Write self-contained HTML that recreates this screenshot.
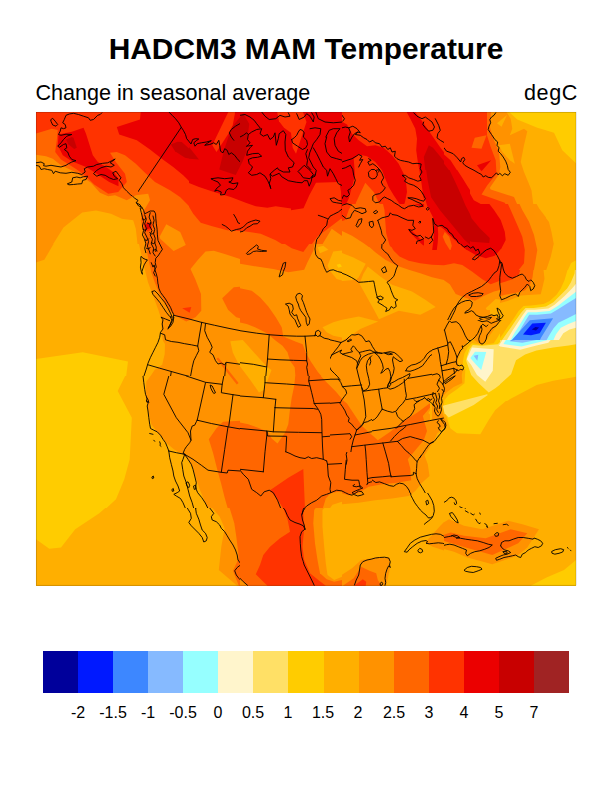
<!DOCTYPE html>
<html lang="en">
<head>
<meta charset="utf-8">
<title>HADCM3 MAM Temperature</title>
<style>
html,body{margin:0;padding:0;background:#fff;}
body{width:612px;height:792px;position:relative;overflow:hidden;font-family:"Liberation Sans",sans-serif;color:#000;}
.map{position:absolute;left:0;top:0;}
.title{position:absolute;left:0;width:612px;top:32px;text-align:center;font-weight:bold;font-size:29.9px;line-height:34px;white-space:nowrap;}
.sub{position:absolute;top:81px;font-size:21.6px;line-height:24px;white-space:nowrap;}
.sub.l{left:35.4px;}
.sub.r{left:524px;letter-spacing:0.6px;}
.cb{position:absolute;left:43px;top:651px;width:526px;height:42px;display:flex;}
.cb i{display:block;flex:1 1 0;height:100%;}
.lab{position:absolute;top:704px;font-size:16px;line-height:18px;width:60px;margin-left:-30px;text-align:center;white-space:nowrap;}
</style>
</head>
<body>
<svg class="map" width="612" height="792" viewBox="0 0 612 792" shape-rendering="geometricPrecision">
<defs>
<clipPath id="c0"><path clip-rule="evenodd" d="M36 112H138V244H36ZM128 196H138V244H128Z"/></clipPath>
<clipPath id="c1"><path clip-rule="evenodd" d="M138 112H240V244H138ZM138 196H196V244H138Z"/></clipPath>
<clipPath id="c2"><rect x="240" y="112" width="102" height="132"/></clipPath>
<clipPath id="c3"><rect x="342" y="112" width="102" height="132"/></clipPath>
<clipPath id="c4"><rect x="444" y="112" width="102" height="132"/></clipPath>
<clipPath id="c5"><path clip-rule="evenodd" d="M138 244H240V376H138ZM138 244H196V284H138Z"/></clipPath>
<clipPath id="c6"><path clip-rule="evenodd" d="M240 244H342V376H240ZM330 320H342V376H330Z"/></clipPath>
<clipPath id="c7"><rect x="342" y="244" width="102" height="76"/></clipPath>
<clipPath id="c8"><rect x="444" y="244" width="102" height="76"/></clipPath>
<clipPath id="c9"><rect x="138" y="376" width="102" height="132"/></clipPath>
<clipPath id="c10"><path clip-rule="evenodd" d="M240 376H342V508H240ZM330 376H342V452H330Z"/></clipPath>
<clipPath id="c11"><path clip-rule="evenodd" d="M342 452H444V508H342ZM372 452H444V493H372Z"/></clipPath>
<clipPath id="c12"><path clip-rule="evenodd" d="M432 376H444V452H432ZM432 392H444V452H432Z"/></clipPath>
<clipPath id="c13"><rect x="444" y="452" width="132" height="56"/></clipPath>
<clipPath id="c14"><rect x="138" y="508" width="102" height="78"/></clipPath>
<clipPath id="c15"><rect x="240" y="508" width="102" height="78"/></clipPath>
<clipPath id="c16"><rect x="342" y="508" width="102" height="78"/></clipPath>
<clipPath id="c17"><rect x="444" y="508" width="132" height="78"/></clipPath>
<clipPath id="c18"><rect x="128" y="196" width="68" height="88"/></clipPath>
<clipPath id="c19"><path clip-rule="evenodd" d="M330 320H432V452H330ZM372 392H432V452H372Z"/></clipPath>
<clipPath id="c20"><path clip-rule="evenodd" d="M432 320H534V452H432ZM432 392H450V452H432Z"/></clipPath>
<clipPath id="c21"><rect x="372" y="392" width="78" height="101"/></clipPath>
<clipPath id="c22"><rect x="36" y="112" width="153" height="198"/></clipPath>
<clipPath id="c23"><rect x="189" y="112" width="102" height="132"/></clipPath>
<clipPath id="c24"><rect x="291" y="112" width="102" height="132"/></clipPath>
<clipPath id="c25"><rect x="393" y="112" width="87" height="132"/></clipPath>
<clipPath id="c26"><rect x="480" y="112" width="96" height="132"/></clipPath>
<clipPath id="c27"><rect x="342" y="112" width="102" height="132"/></clipPath>
<clipPath id="c28"><rect x="444" y="112" width="102" height="132"/></clipPath>
<clipPath id="c29"><rect x="36" y="244" width="102" height="132"/></clipPath>
<clipPath id="c30"><rect x="138" y="244" width="102" height="132"/></clipPath>
<clipPath id="c31"><rect x="240" y="244" width="102" height="132"/></clipPath>
<clipPath id="c32"><rect x="342" y="244" width="102" height="132"/></clipPath>
<clipPath id="c33"><rect x="444" y="244" width="102" height="132"/></clipPath>
<clipPath id="c34"><rect x="36" y="376" width="102" height="132"/></clipPath>
<clipPath id="c35"><rect x="138" y="376" width="102" height="132"/></clipPath>
<clipPath id="c36"><rect x="240" y="376" width="102" height="132"/></clipPath>
<clipPath id="c37"><rect x="342" y="376" width="102" height="132"/></clipPath>
<clipPath id="c38"><rect x="444" y="376" width="132" height="132"/></clipPath>
<clipPath id="c39"><rect x="36" y="508" width="102" height="78"/></clipPath>
<clipPath id="c40"><rect x="138" y="508" width="102" height="78"/></clipPath>
<clipPath id="c41"><rect x="240" y="508" width="102" height="78"/></clipPath>
<clipPath id="c42"><rect x="342" y="508" width="102" height="78"/></clipPath>
<clipPath id="c43"><rect x="444" y="508" width="132" height="78"/></clipPath>
<clipPath id="c44"><rect x="342" y="204" width="102" height="43"/></clipPath>
<clipPath id="c45"><rect x="444" y="204" width="102" height="86"/></clipPath>
<clipPath id="c46"><rect x="140" y="214" width="50" height="42"/></clipPath>
<clipPath id="c47"><rect x="210" y="335" width="70" height="65"/></clipPath>
<clipPath id="c48"><rect x="424" y="170" width="46" height="80"/></clipPath>
<clipPath id="c49"><rect x="430" y="310" width="60" height="111"/></clipPath>
<clipPath id="c50"><rect x="546" y="244" width="30" height="46"/></clipPath>
<clipPath id="c51"><rect x="432" y="320" width="102" height="132"/></clipPath>
<clipPath id="c52"><rect x="500" y="290" width="76" height="111"/></clipPath>
<clipPath id="c53"><rect x="500" y="270" width="76" height="70"/></clipPath>
</defs>
<g>
<g clip-path="url(#c0)">
</g>
<g clip-path="url(#c1)">
</g>
<g clip-path="url(#c2)">
</g>
<g clip-path="url(#c3)">
</g>
<g clip-path="url(#c4)">
</g>
<g clip-path="url(#c5)">
</g>
<g clip-path="url(#c6)">
</g>
<g clip-path="url(#c7)">
</g>
<g clip-path="url(#c8)">
</g>
<g clip-path="url(#c9)">
</g>
<g clip-path="url(#c10)">
</g>
<g clip-path="url(#c11)">
</g>
<g clip-path="url(#c12)">
</g>
<g clip-path="url(#c13)">
</g>
<g clip-path="url(#c14)">
</g>
<g clip-path="url(#c15)">
</g>
<g clip-path="url(#c16)">
</g>
<g clip-path="url(#c17)">
</g>
<g clip-path="url(#c18)">
</g>
<g clip-path="url(#c19)">
</g>
<g clip-path="url(#c20)">
</g>
<g clip-path="url(#c21)">
</g>
<g clip-path="url(#c22)">
<rect x="35" y="111" width="155" height="200" fill="#FF9200"/>
<polygon fill="#FFAF00" points="36,262.5 44.8,260 51,247.5 63.5,227.5 82.2,212.5 96,210.5 111,213.8 121.8,218.8 133.2,220.2 135.8,228.8 137.5,244 139.8,250 143.5,270 149.8,285 156,300 161,317.5 36,317.5"/>
<polygon fill="#FF6600" points="34.8,154.5 46,156.2 52.8,158.8 61,165.2 76.8,172.8 91,182.8 100,192.8 108.2,196.2 115,195.2 126.8,200.2 135.8,195.2 148.2,193.8 150,200.2 145,208.8 141.8,213.8 140.8,220.2 142.5,228.8 145,238.8 149.8,257 154.8,264.5 156,282 161,297 166,312 191,312 191,110.8 34.8,110.8"/>
<polygon fill="#FF3300" points="34.8,133.8 51.8,128.8 57.8,130 56.8,140.2 55.2,152 61,159.5 76.8,169.5 86,176.2 94.2,184.5 108.2,193.8 118.2,192 126.8,182 125,173.8 115.8,162 110,152.8 116.8,152 125,155.2 135.8,163.8 144.2,172 155,182 170,190.2 180,197 188.2,205.2 195.8,215.2 196,110.8 34.8,110.8"/>
<polygon fill="#EB0000" points="58.5,134.5 57.8,145.2 62.8,155.2 71.8,161.2 86,167 94.2,172 102.8,177.8 109.2,182 118.5,186.2 118.5,178.8 114.2,172.8 106,167 97.8,162 92.8,155.2 89.2,143.8 86,133.8 83.5,127.8 71.8,131.8"/>
<polygon fill="#C80000" points="66,139.5 71.8,137 73.5,137.8 76.8,147.8 74.2,149 68.5,144.5"/>
<polygon fill="#EB0000" points="140.8,110.8 140,119.5 116.8,127 119.2,134.5 136.8,140.2 150,149.5 161.8,158.8 173.2,167 183.2,175.2 190.8,182.8 196,187 196,110.8"/>
<polygon fill="#C80000" points="170.8,144.5 177.5,141.8 181.8,142 199.2,157.8 198.2,160.2 185,157.8 175,151.2"/>
</g>
<g clip-path="url(#c23)">
<rect x="188" y="111" width="104" height="134" fill="#EB0000"/>
<polygon fill="#FF3300" points="228.7,111.2 235.3,111.2 232.7,125.3 229,132.8 216.5,152 212.3,145.3"/>
<polygon fill="#C80000" points="243.2,113.3 249.3,124 247.3,138.7 246.5,151.2 242.7,161.2 235.7,175 219.3,169.5 222.3,157 224.8,147.8 229.8,132.8 232.7,126.2"/>
<polygon fill="#FF3300" points="277,111.2 279,121.2 284,127.8 292.3,133.7 292.3,111.2"/>
<polygon fill="#C80000" points="188.2,146.2 189,147 199,159.5 189,158.7 188.2,158.7"/>
<polygon fill="#FF3300" points="188.2,182.8 199,187 214,192 230.7,197 245.7,202.8 255.7,206.2 267.3,207.8 275.7,206.2 292.3,208.7 292.3,245.3 188.2,245.3"/>
<polygon fill="#FF6600" points="188.2,205.3 193.2,213.7 200.7,222.8 212.3,226.2 227.3,230.3 244,231.2 260.7,233.7 275.7,240.3 284,245.3 188.2,245.3"/>
</g>
<g clip-path="url(#c24)">
<rect x="290" y="111" width="104" height="134" fill="#EB0000"/>
<polygon fill="#FF3300" points="290.2,111.2 302.7,111.2 306.5,122 296,153.7 292.7,147.8 291,132.8 290.2,132.8"/>
<polygon fill="#FF3300" points="346,111.2 349.3,122 361,136.2 369.3,144.5 379.3,146.2 386,151.2 393,162 394.3,162 394.3,111.2"/>
<polygon fill="#FF3300" points="290.2,210.3 303.5,208.3 309.3,195.3 316,182.8 339.3,182 341,192 341.8,217 346,220.3 349.3,212 355.2,192 356,178.7 355.2,167 364.3,160.3 372.7,157.8 379.3,165.3 384.3,175.3 387.7,192 389.3,208.7 393,213.7 394.3,213.7 394.3,245.3 290.2,245.3"/>
<polygon fill="#FF6600" points="311,245.3 317.7,236.2 330.2,227 341,218.7 348.5,218.7 356,202 357.7,195.3 366,182.8 377.7,193.7 384.3,208.7 386.8,225.3 384.3,245.3"/>
<polygon fill="#FF9200" points="321.8,245.3 331.8,228.7 346,238.7 357.7,240.3 371,245.3"/>
</g>
<g clip-path="url(#c25)">
<rect x="392" y="111" width="89" height="134" fill="#FF3300"/>
<polygon fill="#EB0000" points="405.5,111.2 411.3,122 417.2,133.7 416,145.3 416.3,158.7 418.3,180 423.3,192.5 425,203.3 434.2,219.2 432.5,231.7 425,236.7 416.7,236.7 409.2,225 403.3,201.7 405.8,190.3 406.3,183.7 399.7,167 393,161.2 392.2,160.3 392.2,212 396.3,210.3 400.8,212 407.5,224.2 412.5,235 420,245 427.5,248 434.7,246.7 436.7,231.7 435.8,221.7 441.7,223.3 448.3,230 455,238.3 463.3,244.2 472,246.7 496.3,247 496.3,209.5 495,209.5 486.3,206.2 473.8,200.3 466.3,187 459.7,174.5 450.5,160.3 440.5,147.8 431.3,134.5 422.2,121.2 414.7,111.2"/>
<polygon fill="#C80000" points="428.8,145.3 433,147.8 446.3,163.7 451.3,173.7 458,187 464.7,203.7 472.2,220.3 479.7,228.7 489.7,236.2 491.3,240.3 488.8,245.3 471.3,245.3 468,242 459.7,233.7 449.7,223.7 443,215.3 436.3,205.3 430.5,195.3 426.3,178.7 423.8,157"/>
<polygon fill="#EB0000" points="477.2,165.3 491,160.3 481.3,171.2"/>
<polygon fill="#FF6600" points="471.3,147.8 474.7,137.8 486.3,135.3 481.3,148.7"/>
<polygon fill="#FF6600" points="483.8,111.2 486.3,120.3 487.2,128.7 491.3,138.7 496.3,144.5 496.3,111.2"/>
<polygon fill="#FF6600" points="496.3,177.8 488.8,185.3 482.2,193.7 486.3,200.3 496.3,204.5"/>
<polygon fill="#FF6600" points="442.5,235 445,231.7 451.7,241.7 452.5,250 443.3,240"/>
</g>
<g clip-path="url(#c26)">
<rect x="479" y="111" width="98" height="134" fill="#FFAF00"/>
<polygon fill="#FFCC00" points="508.2,111.2 517.3,120.3 537.3,127.8 554,132.8 562.3,150.3 577.3,164.5 577.3,111.2"/>
<polygon fill="#FF9200" points="473.2,111.2 505.7,111.2 511.5,119.5 512.3,128.7 509.8,135.3 524,128.7 527.3,131.2 524,145.3 520.7,162 524,172 528.2,182 531.5,190.3 533.2,203.7 539.8,210.3 549,222 551.5,232 554,245.3 473.2,245.3"/>
<polygon fill="#FFAF00" points="497,123.3 507,115 501.5,126.7"/>
<polygon fill="#FFAF00" points="499,145.3 509.8,143.7 514.8,163.7 509.8,160.3 502.3,152"/>
<polygon fill="#FF6600" points="473.2,111.2 490.7,111.2 489.8,125.3 493.2,138.7 498.2,150.3 500.3,167 499,174.5 489.8,187.8 490.7,189.5 514,197 519.8,210.3 525.7,222 529,235.3 531.5,245.3 473.2,245.3"/>
<polygon fill="#FF3300" points="473.2,111.2 487.3,111.2 487,135.3 490.7,147 494.8,160.3 496.5,173.7 490.7,182 482.3,192 481.5,195.3 504.8,202.8 509.8,212 515.7,227 519,245.3 473.2,245.3"/>
<polygon fill="#FF6600" points="473.2,137.8 486.5,135.3 481.5,147.8 473.2,147"/>
<polygon fill="#EB0000" points="476.5,165.3 490.7,160.3 481.5,171.2"/>
<polygon fill="#EB0000" points="473.2,201.2 489.8,210.3 495.7,215.3 502.3,227 505.7,233.7 504.8,245.3 473.2,245.3"/>
<polygon fill="#C80000" points="473.2,225.3 484,232 490.7,238.7 489.8,245.3 473.2,245.3"/>
</g>
<g clip-path="url(#c27)">
<rect x="341" y="111" width="104" height="134" fill="#FF3300"/>
<polygon fill="#EB0000" points="341.2,121.2 347,124.5 352,133.7 358.7,140.3 367,146.2 375.3,145.3 383.7,147.8 392,155.3 398.7,163.7 403.7,173.7 406.2,183.7 407,192 405,202 402.8,208.3 398.7,202.8 393.7,195.3 388.7,187 385.3,178.7 382,170.3 375.3,162 367,156.2 358.7,154.5 353.7,158.7 355,175.3 352,187 348.7,198.7 344.5,207 341.2,209.5"/>
<polygon fill="#EB0000" points="406.2,111.2 410.3,118.7 415.3,128.7 417,138.7 416.2,150.3 417.8,162 420.3,175.3 422,187 423.7,198.7 428.7,210.3 434.2,219.2 432.5,231.7 425,236.7 416.7,236.7 408.7,224.5 412.5,235 420,245.3 445.3,245.3 445.3,111.2"/>
<polygon fill="#FF3300" points="414.7,111.2 422.2,121.2 431.3,134.5 440.5,147.8 450.5,160.3 450.5,111.2"/>
<polygon fill="#C80000" points="428.8,145.3 433,147.8 446.3,163.7 446.3,218.7 443,215.3 436.3,205.3 430.5,195.3 426.3,178.7 423.8,157"/>
<polygon fill="#FF6600" points="341.2,222 352,215.3 356.2,202 365.3,182.8 373.7,192 380.3,205.3 384.5,218.7 387,232 385.7,245.3 341.2,245.3"/>
<polygon fill="#FF9200" points="341.2,235 347,237.8 358.7,240.3 368.7,245.3 341.2,245.3"/>
</g>
<g clip-path="url(#c28)">
<rect x="443" y="111" width="104" height="134" fill="#FFAF00"/>
<polygon fill="#FFCC00" points="508.2,111.2 517.3,119.5 537.3,127.8 547.3,130.7 547.3,111.2"/>
<polygon fill="#FF9200" points="443.2,111.2 506,111.2 510.7,118.7 512.3,128.7 509.8,135.3 524,128.7 527.3,131.2 524,145.3 520.7,162 524,172 528.2,182 531.5,190.3 533.2,203.7 539.8,210.3 547.3,219.5 547.3,245.3 443.2,245.3"/>
<polygon fill="#FFAF00" points="497,123.3 507,115 501.5,126.7"/>
<polygon fill="#FFAF00" points="499,145.3 509.8,143.7 514.8,163.7 509.8,160.3 502.3,152"/>
<polygon fill="#FF6600" points="443.2,111.2 491,111.2 489.8,127 494,140.3 499,152 500.3,167 499,174.5 489.8,187.8 490.7,189.5 514,197 519.8,210.3 525.7,222 529,235.3 531.5,245.3 443.2,245.3"/>
<polygon fill="#FF3300" points="443.2,111.2 487,111.2 487,135.3 490.7,147 495.7,160.3 496.5,173.7 487.3,185.3 481.5,194.5 504.8,202.8 509.8,212 515.7,227 519,245.3 443.2,245.3"/>
<polygon fill="#FF6600" points="471.5,147.8 474.8,137.8 486.5,135.3 481.5,148.7"/>
<polygon fill="#EB0000" points="477,165.3 491.2,160.3 481.5,171.2"/>
<polygon fill="#EB0000" points="443.2,153.7 450.5,160.3 459.7,174.5 466.3,187 473.8,200.3 486.3,207 492.3,211.2 496.5,216.2 502.3,227 505.7,233.7 504.8,245.3 443.2,245.3"/>
<polygon fill="#C80000" points="443.2,162.8 449,170.3 455.3,182 461,195.3 466.2,207 471.5,218.7 480.7,228.7 489,236.2 490.7,240.3 488.2,245.3 471.5,245.3 469,242 460.7,233.7 452.3,225.3 443.2,217.8"/>
<polygon fill="#FF6600" points="443.2,231.2 444.8,232 450.7,240.7 451.5,245.3 443.2,245.3"/>
</g>
<g clip-path="url(#c29)">
<rect x="35" y="243" width="104" height="134" fill="#FFAF00"/>
<polygon fill="#FF9200" points="35.2,243.2 54,243.2 44.3,259.8 35.2,262.7"/>
<polygon fill="#FFCC00" points="35.2,359 82.7,352.3 128,361.5 126,377.3 35.2,377.3"/>
</g>
<g clip-path="url(#c30)">
<rect x="137" y="243" width="104" height="134" fill="#FF9200"/>
<polygon fill="#FFAF00" points="137.2,243.2 138.8,243.2 143,262.3 148,282.3 153,295.7 158,309 161.3,319 161.3,332.3 163,340.7 165,344 164.7,354 162.2,364.8 154.7,369.8 149.7,377.3 137.2,377.3"/>
<polygon fill="#FF6600" points="145.5,243.2 148,257.3 151.3,272.3 154.7,282.3 158.8,292.3 164.7,302.3 171.3,312.3 175.5,315.7 186.3,321.5 195.5,317.3 201.3,310.7 201,294 195.5,279.8 190.5,269 198,259.8 205.5,251.5 213.8,250.7 224.7,254 241.3,259.3 241.3,243.2"/>
<polygon fill="#FF3300" points="182.2,308.2 191.3,307 189.7,312.7"/>
<polygon fill="#FF6600" points="241.3,286.5 233.8,287.3 222.2,298.2 228,309.8 236.3,317.3 241.3,318.5"/>
</g>
<g clip-path="url(#c31)">
<rect x="239" y="243" width="104" height="134" fill="#FF9200"/>
<polygon fill="#FF6600" points="239.2,263.7 256.7,266.5 273.3,269 288.3,272.3 304.2,269.8 307.5,262.3 313.3,250.7 314.5,243.2 239.2,243.2"/>
<polygon fill="#FF3300" points="283.7,243.2 291.7,248.2 303.3,252 309.7,243.2"/>
<polygon fill="#FF6600" points="239.2,288.2 251.7,290.7 260,297.3 268.3,306.5 275.8,317.3 281.7,327.3 283.3,336.5 296,341.7 302.7,344.2 306,353.3 311,361.7 317.7,371.7 326,381.7 295.8,381.7 294.7,367.3 290,360.7 287.5,352.3 282.5,345.7 275.8,340.7 270,335.7 265,332.3 255,327.3 246.7,324 239.2,322.3"/>
<polygon fill="#FFAF00" points="322.5,327.3 333.3,322.3 343.3,319.5 343.3,337.7 333.3,335.7 326.7,332.3"/>
<polygon fill="#FFAF00" points="317.5,247.3 323.3,245.7 328.3,249.8 320,253.2"/>
<polygon fill="#FFAF00" points="327.5,265.7 333.3,251.5 343.3,250.3 343.3,281 336.7,279 330,270.7"/>
<polygon fill="#FFCC00" points="336.7,264.8 340,263.7 342,266.5 338.3,267.7"/>
</g>
<g clip-path="url(#c32)">
<rect x="341" y="243" width="104" height="134" fill="#FF9200"/>
<polygon fill="#FF6600" points="365,243.2 375.3,252.3 385.3,259.8 397,265.7 408.7,269.8 420.3,273.2 432,277.3 445.3,280.2 445.3,243.2"/>
<polygon fill="#FF3300" points="389.2,243.2 393.7,250.7 399.5,256.5 408.7,260.7 420.3,263.2 432,264.8 445.3,265.2 445.3,243.2"/>
<polygon fill="#EB0000" points="422,243.2 427,246.5 432.8,244.8 433.3,243.2"/>
<polygon fill="#FFAF00" points="341.2,252.7 352.8,257.3 365.7,263.7 358.7,277.3 356.2,279.8 342,281 341.2,281"/>
<polygon fill="#FFAF00" points="367.8,266.5 380.3,276.5 392,284.8 412,291.5 425.3,299.8 435.7,307 420.3,314.8 398.7,310.7 379,319.3 374.5,310.7 367,297.3 359.5,283.7 363.3,274"/>
<polygon fill="#FFAF00" points="341.2,319.8 358.7,316.5 378.2,321.5 360.3,329 352,334.8 341.2,341.2"/>
</g>
<g clip-path="url(#c33)">
<rect x="443" y="243" width="104" height="134" fill="#FFCC00"/>
<polygon fill="#FFAF00" points="547.3,286.5 542.3,299 530.7,300.7 522.3,302.3 517.3,305.7 510.7,310.7 505.7,317.3 500.7,324 495.7,332.3 489,339 479.8,342.3 471.5,344 467.3,349 464,355.7 460.7,364 462.3,369 465.7,372.3 464.8,377.3 443.2,377.3 443.2,243.2 547.3,243.2"/>
<polygon fill="#FF9200" points="547.3,265.7 544,267.3 542.3,277.3 540.7,292.3 530.7,294 517.3,295.7 501.5,299.8 495.7,299 485.7,308.2 489.8,314 499.8,319 494,327.3 487.3,334 477.3,338.2 470.7,341.5 464.8,345.7 459.8,352.3 456.5,359 454,365.7 458.2,369 462.3,372.3 460.7,377.3 443.2,377.3 443.2,243.2 547.3,243.2"/>
<polygon fill="#FF6600" points="443.2,279.3 449.8,284 455.7,294 464,297.3 474.8,300.7 484,295.7 494,291.5 504,289 517.3,285.7 527.3,279 532.3,265.7 534.8,252.3 535.7,243.2 443.2,243.2"/>
<polygon fill="#FF3300" points="443.2,264.8 454,263.2 462.3,264.8 472.3,271.5 482.3,279 490.7,284 497.3,281.5 507.3,277.3 517.3,271.5 523.2,262.3 524.8,250.7 524.3,243.2 443.2,243.2"/>
<polygon fill="#EB0000" points="460.3,243.2 465.7,249.8 475.7,254.8 485.7,258.2 494.8,255.7 502,243.2"/>
</g>
<g clip-path="url(#c34)">
<rect x="35" y="375" width="104" height="134" fill="#FFCC00"/>
<polygon fill="#FFAF00" points="125.5,375.2 117.7,391 131.8,417.7 129.7,459.3 124.3,479.3 116,499.3 105.2,509.3 139.3,509.3 139.3,375.2"/>
</g>
<g clip-path="url(#c35)">
<rect x="137" y="375" width="104" height="134" fill="#FF9200"/>
<polygon fill="#FFAF00" points="151,375.2 146.3,381.8 145.5,396 148,409.3 151.3,424.3 159.7,435.2 166.3,442.7 173.8,449.3 182.2,454.3 188,459.3 193,469.3 196.3,479.3 199.7,489.3 203.8,499.3 208,509.3 137.2,509.3 137.2,375.2"/>
<polygon fill="#FF6600" points="241.3,420.7 223,421.8 216.3,428.5 208.8,439.3 213,452.7 217.2,469.3 221.3,484.3 224.7,497.7 228,509.3 241.3,509.3"/>
</g>
<g clip-path="url(#c36)">
<rect x="239" y="375" width="104" height="134" fill="#FF6600"/>
<polygon fill="#FF9200" points="239.2,422.3 248.3,424.3 260,428.5 267.5,431.8 271.7,438.5 277.5,443.5 285,432.7 288.3,424.3 290,409.3 291.7,397.7 294.2,386 295.3,375.2 239.2,375.2"/>
<polygon fill="#FF9200" points="320,375.2 326,381.7 336,391.7 344.3,401.7 344.3,375.2"/>
<polygon fill="#FF3300" points="270,490.2 288.3,477.7 303.3,469 305,509.3 283.7,509.3 277.5,499.3"/>
<polygon fill="#FF9200" points="322.5,509.3 325.8,498.5 330.8,493 343.3,491 343.3,509.3"/>
<polygon fill="#FFAF00" points="329.2,509.3 332.5,504.7 343.3,501.3 343.3,509.3"/>
</g>
<g clip-path="url(#c37)">
<rect x="341" y="375" width="104" height="134" fill="#FF9200"/>
<polygon fill="#FF6600" points="341.2,399 347,403.5 355.3,416 362,426 377.8,440.2 390.3,431.8 403.7,421 417,412.7 429.5,403.5 432,405.2 422.8,416 427,431 423.7,440.2 415.3,450.2 407.8,459.3 410.3,468.5 411.2,480.2 397,482.7 382,484.3 368.7,486.8 358.7,492.7 348.7,495.2 341.2,493"/>
<polygon fill="#FFAF00" points="341.2,504.3 358.7,502.7 375.3,500.2 392,498.5 408.7,496 415.3,491 422,482.7 429.5,476 427.8,464.3 424.5,455.2 430.3,446 433.7,441 437.3,432.7 435.3,425.2 433.3,417.7 428.3,413 432.8,406 440.3,397.7 445.3,395.2 445.3,509.3 341.2,509.3"/>
</g>
<g clip-path="url(#c38)">
<rect x="443" y="375" width="134" height="134" fill="#FFAF00"/>
<polygon fill="#FFCC00" points="462.3,375.2 452.3,386 443.2,392.7 443.2,421 444,421 450.7,432.7 479,434.3 494,409.3 514,397.7 530.7,390.2 547.3,384.7 576.5,378 576.5,375.2"/>
<polygon fill="#FFE066" points="443.2,405.2 487.7,394.3 472.3,404.7 447.3,417.2 443.2,415.2"/>
<polygon fill="#FFE066" points="468.7,375.2 490.7,392.7 500.7,384.3 511,375.2"/>
<polygon fill="#FFF5CC" points="477,375.2 485.7,381.8 490.3,375.2"/>
<polygon fill="#FF9200" points="443.2,375.2 454.3,375.2 449,386.3 443.2,390.2"/>
</g>
<g clip-path="url(#c39)">
<rect x="35" y="507" width="104" height="80" fill="#FFAF00"/>
<polygon fill="#FFCC00" points="35.2,479.2 123.8,479.2 115.2,499.2 99.3,513.3 75.2,529.2 61,547.5 49.3,548.7 35.2,538.7"/>
</g>
<g clip-path="url(#c40)">
<rect x="137" y="507" width="104" height="80" fill="#FFAF00"/>
<polygon fill="#FF9200" points="196.8,479.2 203.8,495 211.3,506.7 219.7,516.7 224.7,528.3 221.3,546.7 218.8,570 237.2,585.8 241.3,585.8 241.3,479.2"/>
<polygon fill="#FF6600" points="219.3,479.2 223.8,493.3 229.7,508.3 234.3,523.3 236.3,536.7 238,550 238.8,558.3 233,570.8 238.8,585.8 241.3,585.8 241.3,479.2"/>
</g>
<g clip-path="url(#c41)">
<rect x="239" y="507" width="104" height="80" fill="#FF6600"/>
<polygon fill="#FF3300" points="285,479.2 270,490 275.8,498.3 283.3,508.3 287.5,519.2 290,531.7 280,538.3 270,546.7 263.3,555 260,565 255.8,574.2 263.3,581.7 267.5,585.8 325.8,585.8 318.3,580 310,573.3 304.2,560 302.5,546.7 304.2,528.3 303.3,513.3 304.7,496.7 304.2,479.2"/>
<polygon fill="#FF9200" points="343.3,491.3 330,494.2 321.7,500 314.2,510 313.3,523.3 315,543.3 317.5,560 320,573.3 326.7,579.2 334.2,581.7 343.3,579.7"/>
<polygon fill="#FFAF00" points="343.3,502.8 330,501.7 322.5,510 322.5,526.7 324.2,546.7 325.8,563.3 327.5,575 334.2,580 343.3,576.3"/>
<polygon fill="#FF9200" points="239.2,578 248,585.8 239.2,585.8"/>
</g>
<g clip-path="url(#c42)">
<rect x="341" y="507" width="104" height="80" fill="#FFAF00"/>
<polygon fill="#FF9200" points="341.2,504.5 358.7,502.5 375.3,500 392,497.5 408.7,495.8 415.3,490.8 422,482.5 424,479.2 341.2,479.2"/>
<polygon fill="#FF6600" points="341.2,493 348.7,495 358.7,492.5 368.7,486.7 382,484.2 397,482.5 410.7,479.2 341.2,479.2"/>
<polygon fill="#FF9200" points="341.2,575.3 352,568.3 361.2,560 375.3,557.5 389.5,557.5 390.3,566.7 386.2,585.8 341.2,585.8"/>
<polygon fill="#FF6600" points="342.8,585.8 353.7,578.3 361.2,566.7 369.5,570.8 376.2,573.3 377.8,580 381.7,585.8"/>
<polygon fill="#FF3300" points="354,585.8 362.8,579.2 366.2,581.7 365.7,585.8"/>
<polygon fill="#FF9200" points="445.3,520.8 440.3,525.7 432.7,534.3 425.3,542.2 432.7,546.7 442.7,550 445.3,550.8"/>
</g>
<g clip-path="url(#c43)">
<rect x="443" y="507" width="134" height="80" fill="#FFAF00"/>
<polygon fill="#FF9200" points="443.2,522.8 449,519.2 464,525.8 482.3,529.2 508.2,520.8 522.3,524.2 539,529.2 533.2,538.3 527.3,547.5 517.3,555.8 492.3,564.2 467.3,557.5 454,551.7 443.2,548.7"/>
<polygon fill="#FF6600" points="443.2,535 450.7,532.5 464,535.8 485.7,538.3 510.7,529.2 527.3,533.3 518.2,543.3 492.3,555 465.7,547.5 443.2,540.8"/>
<polygon fill="#FFCC00" points="530.7,585.8 546.5,577.5 564,570 576.5,559.7 576.5,585.8"/>
</g>
<g clip-path="url(#c44)">
<rect x="341" y="203" width="104" height="45" fill="#FF9200"/>
<polygon fill="#FF6600" points="341.2,230.5 352,235.8 363.7,243.3 375.3,251.7 385.3,259.2 397,265.8 408.7,270 420.3,273.3 432,277.5 445.3,280.5 445.3,199.2 341.2,199.2"/>
<polygon fill="#FF3300" points="381.7,199.2 384.5,210 385.3,221.7 386.2,233.3 389.5,245 395.3,253.3 400.3,258.3 410.3,261.7 422,264.2 433.7,265 445.3,265 445.3,199.2"/>
<polygon fill="#FF3300" points="341.2,199.2 354.5,199.2 348.7,210 345.3,220 341.2,221.2"/>
<polygon fill="#EB0000" points="403.7,199.2 412,203.3 422,206.7 432,208.3 435.3,213.3 434,221.7 433.3,233.3 428.7,239.2 420.3,239.2 415.3,234.2 409.5,228.7 408.3,230 415.3,238 422.8,245 427.8,247.5 434,247.2 435,237.5 442,240 445.3,241.2 445.3,199.2"/>
<polygon fill="#C80000" points="436.2,199.2 444,206.7 445.3,207.5 445.3,199.2"/>
<polygon fill="#FFAF00" points="341.2,252.2 353.7,257.5 366.2,263.3 359.2,277 356.7,280 342,281.7 341.2,281.7"/>
</g>
<g clip-path="url(#c45)">
<rect x="443" y="203" width="104" height="88" fill="#FF9200"/>
<polygon fill="#FFAF00" points="534,199.2 539,208.3 547.3,219.2 547.3,199.2"/>
<polygon fill="#FFAF00" points="547.3,288.3 540.7,292.5 530.7,294.2 517.3,295 501.5,300 495.7,299.2 486.5,308.3 492.3,315 500.7,319.2 500.7,333.3 547.3,333.3"/>
<polygon fill="#FF6600" points="517.3,199.2 522.3,210 529,221.7 534,235 537.3,250 534.8,265 532.3,278.3 527.3,283.3 517.3,286.7 504,289.2 494,291.7 484,296.7 475.7,300 464,298.3 455.7,294.2 449.8,284.2 443.2,279.7 443.2,199.2"/>
<polygon fill="#FF3300" points="505.7,199.2 510.7,210 517.3,225 522.3,236.7 524.8,250 524,263.3 517.3,271.7 507.3,277.5 497.3,281.7 490.7,284.2 482.3,279.2 472.3,271.7 462.3,265 454,263.3 443.2,265.3 443.2,199.2"/>
<polygon fill="#EB0000" points="485.7,199.2 494,210 500.7,220 504.8,231.7 505.7,240 501.5,248.3 494.8,255.8 485.7,258.3 475.7,255 465.7,249.2 459.8,242.5 450.7,225 443.2,209.2 443.2,199.2"/>
<polygon fill="#C80000" points="443.2,199.2 464.8,199.2 471.5,218.3 479.8,228.3 489.8,238 489.3,243 471.5,241.7 465.7,239.2 459.8,231.7 452.3,220 443.2,212"/>
<polygon fill="#FF6600" points="443.2,232.5 450.7,241.7 452.3,248.3 443.2,239.7"/>
</g>
<g clip-path="url(#c46)">
<polygon fill="#FF9200" points="159.7,236.6 166.3,224.3 180.2,232.1 185.8,244.9 173.6,251 160.2,238.8"/>
<polygon fill="#FF3300" points="143.6,223.8 148,221.6 151.9,223.2 151.9,229.3 148,231.6 144.7,230.4"/>
<polygon fill="#EB0000" points="145.8,224.3 149.7,223.8 150.2,228.2 146.9,229.3"/>
</g>
<g clip-path="url(#c47)">
<polygon fill="#FFAF00" points="230.3,341.3 242.8,340 266.5,366.3 271.5,370 264,390 259,392.5 250.3,380 239,365 232.8,352.5"/>
<polygon fill="#FF6600" points="216.3,358.8 218.3,357.6 238.6,383 236.8,384.6"/>
</g>
<g clip-path="url(#c48)">
<rect x="423" y="169" width="48" height="82" fill="#FF3300"/>
<polygon fill="#EB0000" points="421.5,169.5 422.5,182.1 424,195.3 427.1,205.4 433.1,217.5 434.1,226.6 433.6,238.7 432.1,250.8 436.7,250.8 437.7,242.7 438.2,234.6 437.7,224.5 444.2,229.6 453.3,238.7 460.4,244.7 467.5,250.8 470.5,250.8 470.5,169.5"/>
<polygon fill="#C80000" points="426.1,169.5 427.6,180.1 431.1,197.3 440.2,210.4 449.3,221.5 458.4,232.6 464.4,239.7 470.5,245.3 470.5,214.9 465.5,205.4 460.4,193.2 454.3,180.1 449.3,169.5"/>
<polygon fill="#FF3300" points="456.9,169.5 462.4,178.1 467.5,186.2 470.5,190.7 470.5,169.5"/>
<polygon fill="#FF6600" points="442.7,236.7 444.7,232.1 449.3,236.7 451.8,245.8 450.3,250.8 445.3,242.7"/>
</g>
<g clip-path="url(#c49)">
<rect x="429" y="309" width="62" height="113" fill="#FFCC00"/>
<polygon fill="#FFAF00" points="517.1,319.8 508.7,328.3 503.1,336 496,343 486.2,343.7 470.8,343 465.8,348.6 463,355 461.6,366.2 463,371.8 465.1,373.2 463,381.7 455.3,388.7 446.9,395 441.2,399.9 438.4,408.4 440.5,422.4 429.3,422.4 429.3,309.3 517.1,309.3"/>
<polygon fill="#FFAF00" points="491.8,422.4 500.3,408.4 508.7,401.3 517.1,397.4 517.1,422.4"/>
<polygon fill="#FF9200" points="429.3,309.3 507,309.3 502.4,319.8 498.9,325.5 493.9,333.2 490.4,338.1 486.2,341.6 482.7,344.4 477.8,340.9 472.2,338.8 467.9,343 463,350.1 459.5,356.4 458.1,365.5 460.2,371.1 463,371.8 460.9,380.3 453.9,385.2 446.9,390.8 441.2,394.3 435.6,399.9 429.3,402"/>
<polygon fill="#FFE066" points="461.6,359.9 469.3,345.1 495.3,343.7 506.6,328.3 517.1,317.7 517.1,373.2 506.6,377.5 497.5,385.9 489.7,392.2 478.5,384.5 470.8,377.5"/>
<polygon fill="#FFF5CC" points="466.8,358.9 470.8,347.9 493.2,349.3 492.5,371.8 485.5,381 477.8,376 472.2,366.2"/>
<polygon fill="#96FFFF" points="470.5,357.8 474.3,351.5 486.2,351.9 481.3,370.4 476.4,365.5"/>
<polygon fill="#86BAFF" points="473.8,355.7 478.5,354.7 477.8,360.6"/>
<polygon fill="#FFF5CC" points="498.2,345.8 508.7,331.1 517.1,323.4 517.1,345.1 508.7,347.7 503.1,347.9"/>
<polygon fill="#96FFFF" points="503.8,343.7 514.3,329.7 517.1,327.6 517.1,344.4 510.1,345.1"/>
<polygon fill="#86BAFF" points="508.7,341.6 517.1,332.5 517.1,343.7 512.9,343.4"/>
<polygon fill="#FFE066" points="444.1,407 486.2,394.3 487.6,395 476.4,407 446.9,418.2 443.4,414"/>
</g>
<g clip-path="url(#c50)">
<rect x="545" y="243" width="32" height="48" fill="#FFAF00"/>
<polygon fill="#FF9200" points="551.7,229.3 553.8,243.4 550.8,256.7 546.5,269.3 543,280.6 541.2,290.4 540.6,294.2 521.7,295.6 509.3,297.2 509.3,229.3"/>
<polygon fill="#FFCC00" points="577.5,259.5 576,260.2 571.1,263 567.6,270.8 564.1,280.6 560.6,289 553.6,296 544.4,302.4 528.3,304.5 521.2,308.7 515.6,314.3 509.3,322 509.3,342.4 577.5,342.4"/>
<polygon fill="#FFE066" points="577.5,271.5 576,272.2 573.2,276.4 569,286.2 564.8,291.8 556.4,298.9 547.2,305.2 529.7,306.6 523.4,310.8 517,317.1 509.3,326.3 509.3,342.4 577.5,342.4"/>
<polygon fill="#FFF5CC" points="577.5,283.4 576,284.1 571.8,288.3 566.2,293.9 557.8,301 548.6,308 529,309.4 524.1,314.3 518.4,321.3 512.8,328.4 509.3,331.9 509.3,342.4 577.5,342.4"/>
<polygon fill="#96FFFF" points="577.5,291.1 576,291.8 570.4,295.3 559.2,304.5 550.1,311.5 528.3,312.9 521.2,322.7 514.2,331.2 509.3,336.1 509.3,342.4 577.5,342.4"/>
<polygon fill="#86BAFF" points="577.5,296.8 576,297.5 569,301.7 556.4,311.5 550.8,315 527.6,315.7 520.5,327 512.8,336.8 509.3,341.7 509.3,342.4 577.5,342.4"/>
</g>
<g clip-path="url(#c51)">
<rect x="431" y="319" width="104" height="134" fill="#FFAF00"/>
<polygon fill="#FFCC00" points="515.3,319.2 510.3,323.3 502,330 497,338.3 493.7,343.3 482,345 472,343.3 467.8,347.5 464.5,353.3 462.8,361.7 463.7,368.3 465.3,370 464.5,383.3 457,389.2 448.7,395 444.5,400 443.7,406.7 446.2,415 448.7,423.3 450.3,428.3 457,433.3 480.3,434.2 488.7,420 495.3,410 507,400 522,391.7 535.3,387 535.3,319.2"/>
<polygon fill="#FF9200" points="501.2,319.2 498.7,323.3 493.7,330 488.7,336.7 485.3,341.7 480.3,344.2 475.3,340.8 471.2,338.3 467.8,341.7 463.7,346.7 460.3,353.3 457.8,360 458.7,368.3 462.8,370 461.7,375 462.3,383 453.7,387 447,392 442.3,397 439.5,403.3 441.2,410 444,416.7 447.3,425 442,428.7 437,433.7 434.5,440.3 431.2,445 431.2,319.2"/>
<polygon fill="#FFE066" points="523.7,319.2 518.7,322.5 510.3,329.2 503.7,338.3 497.8,344.2 482,345.8 472.8,345 469.5,349.2 467,356.7 466.2,360.8 471.2,375 478.7,383.3 488.7,392.5 495.3,388.3 503.7,381.7 512,371.7 515.3,361.7 522,356.7 528.7,353.3 535.3,351.3 535.3,319.2"/>
<polygon fill="#FFE066" points="442.8,405.8 487,394.2 487.8,395 473.7,405 448.7,417.5 444.5,413.3"/>
<polygon fill="#FFF5CC" points="466.7,359.2 472,347.5 493.7,349.2 492.8,370.8 485.3,381.7 477,375 471.2,365"/>
<polygon fill="#96FFFF" points="470.3,358 475,351.7 486.2,352 481.2,370 475.7,364.2"/>
<polygon fill="#86BAFF" points="473.7,355.8 478.3,354.7 477.3,360.8"/>
<polygon fill="#FFF5CC" points="498.7,345.8 507,335 518.7,322.5 522,319.2 535.3,319.2 535.3,346.3 522,350.8 503.7,347.5"/>
<polygon fill="#96FFFF" points="503.7,344.2 510.3,336.7 522,323.3 525.7,319.2 535.3,319.2 535.3,341.3 518.7,346.7"/>
<polygon fill="#86BAFF" points="509.5,340.8 515.3,335 525.3,324.2 530,319.2 535.3,319.2 535.3,337.2 518.7,342.5"/>
<polygon fill="#3D87FF" points="514.5,338 522,331.7 530.3,323.3 535.3,320 535.3,333.8 525.3,337.5"/>
<polygon fill="#0019FF" points="525.3,332.5 530.3,327.5 535.3,324.2 535.3,331.3 528.7,333.3"/>
<polygon fill="#00009B" points="532,330 535.3,328 535.3,330.3"/>
</g>
<g clip-path="url(#c52)">
<rect x="499" y="289" width="78" height="113" fill="#FFCC00"/>
<polygon fill="#FFAF00" points="494.2,409.4 495,408.3 511.6,398.3 536.7,385 553.2,380.8 571.9,377.5 577.1,376.7 577.1,409.4"/>
<polygon fill="#FFAF00" points="489.3,339.9 499.8,330.8 520.2,303.4 545.5,301.9 551.8,297 563.8,289.3 489.3,289.3"/>
<polygon fill="#FF9200" points="541.3,289.3 540.6,293.9 521.6,295.3 508.3,297 501.2,300.5 489.3,301.2 489.3,289.3"/>
<polygon fill="#FF9200" points="489.3,317.4 496.3,320.2 501.2,324.4 489.3,337.1"/>
<polygon fill="#FFE066" points="489.3,345.5 495.6,343.4 504.1,330.8 520.2,306.2 548.3,304.8 557.5,298.4 568.7,289.3 577.1,289.3 577.1,344.1 568.7,345.5 553.2,347.6 536.4,350.4 525.1,354.6 516,360.3 511.1,374.3 498.4,385.6 489.3,394.7"/>
<polygon fill="#FFF5CC" points="498.4,346.2 522.3,309.7 549,308.3 560.3,299.8 570.1,294.2 574.3,289.3 577.1,289.3 577.1,324.4 568.7,326.5 557.5,332.2 548.3,342.7 536.4,345.5 520.2,349.7"/>
<polygon fill="#FFF5CC" points="489.3,349 493.5,349 493.5,371.5 489.3,374.3"/>
<polygon fill="#96FFFF" points="503.4,344.1 509,335 525.1,313.2 549.7,311.1 563.1,301.9 577.1,294.2 577.1,317.8 565.9,322.3 556,328.2 546.9,340.3 521.6,346.5"/>
<polygon fill="#86BAFF" points="509.7,341.3 527.2,315.3 550.4,314.6 557.5,309.7 577.1,299.3 577.1,307.8 563.1,315.3 553.9,320.9 544.1,338.5 522.3,342.7"/>
<polygon fill="#3D87FF" points="510.8,340.7 530.8,318.8 552.8,318.1 542,335.7"/>
<polygon fill="#0019FF" points="523.4,333.8 532.2,323.7 546.2,322.3 539.9,332.2 532.2,333.3"/>
<polygon fill="#00009B" points="531.5,328.6 535,326.3 539.2,326.8 535.7,330.1"/>
</g>
<g clip-path="url(#c53)">
<rect x="499" y="269" width="78" height="72" fill="#FFAF00"/>
<polygon fill="#FF9200" points="499.4,269.4 543.5,269.4 544.5,278.7 542.2,288.6 540.7,294.2 532.3,294.8 521.1,295.5 514.9,297.9 507.5,301 499.4,303.2"/>
<polygon fill="#FF6600" points="499.4,269.4 533.5,269.4 532.5,277.5 529.8,284.9 524.8,290.5 514.9,293 505,294.8 499.4,296.3"/>
<polygon fill="#FF3300" points="499.4,269.4 520.5,269.4 518.6,275 512.4,279.3 505,281.8 499.4,283.3"/>
<polygon fill="#FFCC00" points="567.7,269.4 564.6,279.9 560.8,288.6 556.5,294.8 549.7,301 543.5,304.1 531,305.4 523.6,306 518.6,311 513.7,318.4 507.5,327.1 502.5,334.6 499.4,338.9 499.4,344.5 577,344.5 577,269.4"/>
<polygon fill="#FFE066" points="574.9,269.4 574.5,273.7 570.8,282.4 567.1,288.6 559.6,296.1 553.4,302.3 545.9,306.6 533.5,307.9 525.5,307.9 521.1,312.8 516.1,319.7 511.2,327.1 505,335.8 501.5,340.8 501.5,344.5 577,344.5 577,269.4"/>
<polygon fill="#FFF5CC" points="577,283 576,283.7 572,288.6 564.6,296.1 554.6,304.8 548.4,308.5 534.8,309.7 526.7,309.7 523,314.7 518,322.2 512.4,330.8 506.5,340.8 506.5,344.5 577,344.5"/>
<polygon fill="#96FFFF" points="577,291.1 576,291.7 569.5,296.7 558.4,305.4 549.7,311 536,312.2 527.9,312.2 524.8,316.6 519.9,324.6 514.3,333.3 510.2,340.8 510.2,344.5 577,344.5"/>
<polygon fill="#86BAFF" points="577,297.3 576,297.9 567.1,303.5 558.4,309.1 550.9,313.5 537.3,314.7 529.2,314.7 526.1,319.7 521.7,327.1 516.8,335.8 513.9,340.8 513.9,344.5 577,344.5"/>
<polygon fill="#96FFFF" points="577,313.6 576,314.1 567.1,318.4 558.4,322.8 553.4,328.4 549.7,334.6 546.6,340 546.6,344.5 577,344.5"/>
<polygon fill="#FFF5CC" points="577,320.4 576,320.9 568.3,324 560.8,327.7 555.9,334.6 553.4,340 553.4,344.5 577,344.5"/>
<polygon fill="#FFE066" points="577,327.2 576,327.7 569.5,329.6 563.3,333.3 559,340 559,344.5 577,344.5"/>
<polygon fill="#3D87FF" points="510.9,341 529.8,320.3 553.1,318.2 541,337.7 539.5,341"/>
<polygon fill="#0019FF" points="523,334.6 532.3,323.4 545.9,322.8 539.7,333.3 531,335.2"/>
<polygon fill="#00009B" points="531.7,329.6 535.4,327.1 539.1,327.4 536,330.6"/>
</g>
</g>
<g fill="none" stroke="#000" stroke-width="0.9" stroke-linejoin="round" stroke-linecap="round">
<g clip-path="url(#c0)">
<path d="M101.8 112.8 L100.2 114.5 L97.7 115.3 L93.5 119.5 L90.2 120.3 L88.5 117.8 L83.5 116.2 L78.5 114.5 L73.5 113.3 L69.3 114 L66 115.3 L64.3 119.5 L62.7 122.8 L65.2 124.5 L66 127.8 L63.5 128.7 L61 127.8 L60.2 131.2 L58.5 134.5 L61 135.3 L66 134.2 L71.8 134.5 L66.8 136.2 L63.5 139.5 L61 142.8 L57.7 146.2 L59.3 147.3 L63.5 144.5 L66 143.7 L66.8 147.8 L64.3 149.5 L67.7 152 L69.3 156.2 L71.8 159.5 L76 160.7 L71.8 162 L68.5 163.7 L66 165.3 L61 167 L56 166.2 L51 165.3 L46 166.2 L43.5 165.7 L44.3 163.7 L41 162 L36 162.8"/>
<path d="M36 165.3 L39.3 166.2 L41 169.5 L44.3 168.7 L47.7 169.5 L51.8 170.3 L53.5 173.7 L55.2 171.2 L60.2 172.8 L66 173.3 L71.8 172.3 L77.7 173.3 L81.8 174.5 L85.2 172 L84.3 168.7 L87.7 167 L93.5 166.2 L96.8 164.5 L102.7 163.3 L107.7 162.8 L111.8 160.7 L115.2 159 L110.2 162.8 L114.3 165.3 L111 167 L106 166.2 L101 167.8 L96.8 170.3 L93.5 173.7 L96.8 176.2 L101 174.5 L105.2 175.3 L109.3 177.8 L113.5 179.5 L117.7 178.7 L114.3 176.2 L112.7 172.8 L116 171.2 L118.5 174.5 L121 177.8 L119.3 180.3 L121.8 183.7 L123.5 187.8 L126.8 191.2 L130.2 194.5 L134.3 197.8 L138.5 200.7"/>
<path d="M67.7 183.7 L71.8 182 L72.7 177.8 L76.8 177 L80.2 177.8 L83.5 176.7 L87.7 176.2 L86 179.5 L82.7 180.3 L81.8 183.7 L77.7 184 L73.5 184.5 L69.3 184.8Z"/>
<path d="M51 119.5 L52.7 118.3 L55.2 121.2 L57.7 124.5 L56 126.2 L52.7 125 L51.3 122Z"/>
</g>
<g clip-path="url(#c1)">
<path d="M168.8 112 L172.2 115.3 L175.5 118.7 L178.8 122.8 L181.3 127.3 L183.3 130.3 L185.5 134.5 L186.7 138.7 L188.8 141.2 L191 144 L192.7 139.5 L195.5 138.7 L198.8 139 L196.3 140.7 L193.8 142.8 L195 146.2 L197.2 143.7 L201.3 142.8 L206.3 142 L211.3 140.7 L207.2 143.3 L204.7 145.3 L209.7 144.5 L213.8 142.8 L216.3 144.5 L218.8 140.3 L219.7 145.3 L220.5 151.2 L223 152.8 L224.7 148.7 L227.2 150.3 L228.8 154.5 L231.3 152.8 L234.7 155.3 L237.2 158.7 L240.5 162.3"/>
<path d="M181.3 127.3 L138 191.7"/>
<path d="M137.7 197 L140.5 197.8 L142.2 201.2 L139.7 202.8 L137.7 203.7"/>
<path d="M137.7 205.3 L141.3 207 L143 212 L141.3 213.7 L142.2 218.7 L144.7 222 L147.2 215.3 L149.7 212 L153.8 211.2 L155.5 218.7 L156.3 228.7 L157.7 237 L157.2 244.5"/>
<path d="M143 220.3 L142.2 228.7 L143.8 235.3 L142.7 244.5"/>
<path d="M145.5 218.7 L148 225.3 L146.3 230.3 L149.7 233.7 L147.2 238.7 L150.5 244.5"/>
<path d="M150.5 213.7 L151.3 220.3 L153.8 227 L152.7 233.7 L154.7 238.7 L153.8 244.5"/>
<path d="M143.8 227 L154.7 228.7"/>
<path d="M143 233.7 L153.8 236.2"/>
<path d="M144.7 222.8 L148 228.7 L145.5 234.5 L148.8 239.5"/>
<path d="M211.3 178.7 L218 177.8 L224.7 178.7 L233 177.8 L231.3 181.2 L228.8 182 L233 183.7 L238 182.8 L236.3 187 L233.8 189.5 L228.8 188.7 L226.3 190.3 L224.7 194.5 L220.5 195 L221.3 192 L217.2 190.3 L214.7 191.2 L217.2 187.8 L220.5 185.3 L218 182 L213.8 180.3Z"/>
<path d="M222.2 224.5 L225.5 226.2 L228.8 228.7 L231.3 231.2 L236.3 229.5 L240.5 228.7"/>
<path d="M233.8 214.5 L236.3 218.7 L238 222.8 L240.5 223.7"/>
<path d="M240.5 123.3 L235.5 126.2 L231.3 129.5 L229.3 132.8 L231.3 137 L233.8 140.3"/>
</g>
<g clip-path="url(#c2)">
<path d="M246.7 146.2 L250 142.8 L247.5 139.5 L248.3 134.5 L251.7 132 L256.7 129.5 L261.7 128.7 L260 133.7 L263.3 136.2 L267.5 134.5 L270 139.5 L273.3 137 L275 132.8 L276.3 145.3 L278.3 138.7 L279.2 133.7 L283.3 130.7 L285.8 134.5 L285 142 L285.3 150.3 L288.3 157 L294.2 162.8 L292.5 167 L288.3 167.8 L290 172 L283.3 172 L278.3 169.5 L277.5 167.8 L274.2 170.3 L270 174 L272.5 176.2 L279.2 173.3 L281.7 176.7 L288.3 180.7 L296.7 182.3 L302 182.8 L304.2 180.7 L307.5 180.7 L309.2 186.2 L311.3 181.2 L312 177 L315.3 174.5"/>
<path d="M246.7 146.2 L252.5 145.3 L250 147.8 L247.5 151.2 L246.7 155.3 L252.5 153.7 L258.3 153.3 L261.7 156.2 L257.5 157.3 L252.5 157.8 L248.3 159.5 L249.2 163.7 L252.5 167 L250.8 170.3 L248.3 172.8 L251.7 175.3 L256.7 174.5 L260 172.8 L265 176.2 L267.5 180.3 L270 185.3 L270.8 188.7 L269.2 183.7 L270.8 178.7 L270 174.5"/>
<path d="M240 137 L243.3 135.3 L246.7 132.8 L248.3 134.5"/>
<path d="M310 128.7 L315 127.8 L320.8 128.7 L320 134.5 L316.7 139.5 L313.3 143.7 L311.7 147.8 L309.7 152.8 L308.7 157.8 L310.8 162 L313.3 167 L316.3 170.3 L315 176.2 L311.7 177.8"/>
<path d="M298.3 171.2 L304.2 165.3 L310 170.3 L313.3 174.5 L310 178.7 L303.3 177.8 L300.8 174.5Z"/>
<path d="M307.5 149.5 L305.8 153.7 L307.5 160.3 L306.7 165.3 L310.8 169.5"/>
<path d="M313.3 147.8 L316.7 153.7 L320 160.3 L323.3 167 L326.7 170.3 L327.5 176.2 L330 168.7 L333.3 173.7 L335.8 178.7 L338.3 183.7 L342.5 185.7"/>
<path d="M325.8 137 L329.2 130.3 L333.3 128.7 L340 128.7 L336.7 132.8 L334.2 138.7 L335 145.3 L338.3 151.2 L342.5 153.7"/>
<path d="M326.7 137 L325 143.7 L326.7 152 L330.8 157 L336.7 158.7 L342.5 160.3"/>
<path d="M291.7 139.5 L294.2 137.8 L296.7 135.3 L298.3 132 L300 129.5 L302.5 130.3 L304.2 132.8 L303.3 137 L306.7 140.3 L307.5 144.5 L305.8 147.8 L302.5 149.5 L300 147.8 L297.5 146.2 L295 144.5 L292.5 142.8 L291.7 139.5"/>
<path d="M261.7 112 L265 116.2 L269.2 119.5 L275.8 118.7 L280 115.3 L285 117 L290 116.2 L288.3 112.8"/>
<path d="M296.7 113.7 L299.2 119.5 L304.2 117 L306.7 113.7 L310 116.2 L313.3 122 L314.2 117 L311.7 112.8"/>
<path d="M315.8 112 L318.3 118.7 L325 122 L333.3 122.8 L342.5 122"/>
<path d="M240 115.3 L245 114.5 L250 117 L254.2 120.3 L256.7 123.7 L260 127.8"/>
<path d="M240 228.7 L243.3 227 L247.5 222.8 L251.7 221.2 L255.8 220 L260 221.2 L257.5 223.7 L253.3 224 L250 226.2 L246.7 227.8 L243.3 231.2 L240 232Z"/>
<path d="M342.5 208.7 L338.3 212 L333.3 214.5 L330 216.2 L327.5 220.3 L326.7 225.3 L323.3 228.7 L321.7 232 L319.2 236.2 L316.7 239.5 L315.8 244.5"/>
<path d="M342.5 201.2 L338.3 200.3 L334.2 197.8 L330 198.7 L332.5 202 L336.7 202.8 L342.5 203.7"/>
<path d="M318.3 215.3 L323.3 217 L327.5 218.7"/>
</g>
<g clip-path="url(#c3)">
<path d="M348.7 127.8 L352.8 126.2 L357 128.7 L360.3 132.8 L357.8 132 L355.3 134.5 L360.3 135.3 L363.7 137.8 L367 139.5 L369.5 142 L372.8 140.3 L375.3 142.8 L379.5 143.7 L382 147 L385.3 146.2 L387.8 149.5 L390.3 147.8 L392 152 L395.3 151.2 L394.5 156.2 L397 158.7 L400.3 160.3 L404.5 161.2 L408.7 162 L412.8 163.7 L417 163.3 L421.2 164 L420.3 168.7 L422 172 L419.5 176.2 L421.2 180.3 L417.8 181.2 L413.7 179.5 L408.7 177.8 L405.3 175.3 L402 175.3 L406.2 178.7 L404.5 181.2 L408.7 183.7 L413.7 185.3 L417.8 187.8 L421.2 191.2 L423.7 195.3 L425.3 198.7 L423.7 201.2 L420.3 200.3 L416.2 198.7 L412 197.8 L407.8 197.8 L412 199.5 L417 202 L421.2 203.7 L422.8 206.2 L418.7 207 L413.7 205.3 L408.7 206.2 L404.5 208.7 L402 207.8 L398.7 205.3 L394.5 202.8 L391.2 200.3 L387.8 198.7 L384.5 197 L382 198.7 L379.5 202 L375.3 202.8 L372.8 200.3 L372.8 196.2 L375.3 194.5 L379.5 193.7 L382.8 191.2 L385.3 187.8 L382.8 185.3 L381.2 182 L383.7 177.8 L382 173.7 L379.5 169.5 L376.2 166.2 L372.8 163.7 L369.5 165.3 L367.8 162 L371.2 160.3 L368.7 158.7"/>
<path d="M342 127.8 L345.3 127 L348.7 127.8 L350.3 132 L348.7 137 L349.5 142 L352 137 L354.5 133.7 L357.8 132"/>
<path d="M342 162 L347 160.3 L352 158.7 L356.2 156.2 L358.7 154.5 L362 156.2 L359.5 160.3 L362.8 159.5 L360.3 163.7 L358.7 167"/>
<path d="M342 168.7 L345.3 167.8 L350.3 165.3 L352.8 169.5 L353.7 175.3 L355.3 180.3 L353.7 185.3 L350.3 188.7 L347.8 190.3 L349.5 194.5 L347 197 L343.7 195.3 L342 198.7"/>
<path d="M342 205.3 L347 203.7 L352 205.3 L355.3 208.7 L360.3 207.8 L365.3 208.7 L366.2 212 L362 213.7 L358.7 212 L354.5 210.3 L352 213.7 L350.3 217.8 L346.2 218.7 L342 215.3"/>
<path d="M368.7 172 L371.2 169.5 L374.5 169.5 L377 172 L377.3 175.3 L375.3 178.3 L372 179 L369.2 177Z"/>
<path d="M376.2 170.3 L379.5 169.5 L378.7 172"/>
<path d="M356.2 225.3 L358.7 219.5 L362 218.7 L361.2 222.8 L357.8 227Z"/>
<path d="M369.5 222 L372.8 221.2 L373.7 225.3 L372 227.8 L370 226.2Z"/>
<path d="M373.7 212 L376.2 210.3 L377.8 212 L375.3 213.7Z"/>
<path d="M377.8 220.3 L382 217.8 L388.7 216.2 L390.3 212.8 L392 214.5 L397 215.3 L402 217.8 L407.8 220.3 L413.7 220.3 L412.8 225.3 L415.3 228.7 L412 230.3 L408.7 229.5 L412 233.7 L417 236.2 L420.3 235.3 L423.7 238.7 L420.3 240.3 L417 241.2 L416.2 244.5"/>
<path d="M377.8 220.3 L379.5 225.3 L381.2 230.3 L382 234.5 L385.7 240 L382.5 244.7"/>
<path d="M426.5 208.7 L427.8 207.3 L429.2 208.7 L427.8 210Z"/>
<path d="M419 222 L420 221 L421 222 L420 223Z"/>
<path d="M432.8 218.7 L434.5 223.7 L437.8 226.2 L442 225.3 L444.5 227"/>
<path d="M432.8 218.7 L433.3 225.3 L433.7 232 L431.2 237 L432.8 240.3 L428.7 244.5"/>
<path d="M425.3 237 L428.7 238.7 L432 236.2"/>
<path d="M413.7 112.8 L417 116.2 L422 118.7 L425.3 117 L428.7 119.5 L432 122 L434.5 127 L432.8 130.3 L428.7 131.2 L425.3 127.8 L422.8 124.5 L423.7 122"/>
<path d="M435.3 118.7 L438.7 125.3 L440.3 130.3 L437.8 133.7 L437 137.8 L440.3 140.3 L444.5 142.8"/>
<path d="M342 115.3 L344.5 118.7 L342.8 121.2"/>
</g>
<g clip-path="url(#c4)">
<path d="M444 147.8 L446.5 151.2 L449 152 L453.2 153.7 L457.3 157.8 L460.7 162 L461.5 158.7 L463.7 157.3 L464.8 159.5 L462.7 162.8 L464.8 165.3 L469 167.8 L474 170.3 L478.2 172.8 L481.5 174.5 L483.2 177 L485.7 175.7 L488.2 177.3 L491.5 177.8 L494 175.3 L496.5 172.8 L498.2 175 L499.8 173.3 L502.3 175.7 L504.8 173.7 L508.2 175.3 L510.3 172.3 L508.2 169.5 L507.3 165.3 L505.7 161.2 L503.2 157 L500.7 153.7 L498.2 151.2 L499 147.8 L497 145.3 L497.7 142 L494.8 139.5 L493.2 137 L491.5 134.5 L489.8 132 L488.2 129.5 L489 126.2 L490.7 122.8 L489.8 119.5 L491.5 117 L494 115.3 L495.7 112.8"/>
<path d="M444 227 L447.3 228.7 L449 232 L452.3 234.5 L454 237.8 L456.5 239.5 L458.2 242.8 L460.7 244.5"/>
</g>
<g clip-path="url(#c5)">
<path d="M146.3 244 L148 249 L150.5 254 L152.2 260.7 L153.8 265.7 L154.7 271.5 L156.3 277.3 L158 283.2 L158.8 288.2 L160.5 292.3 L163 295.7 L165.5 299 L168 303.2 L170.5 307.3 L172.2 311.5 L173.8 314.8 L173 318.2 L171.3 321.5 L169.7 325.7 L168 328.2 L170.5 326.5 L173 322.3 L173.8 317.3"/>
<path d="M152.2 291.5 L154.7 290.7 L158 294 L161.3 298.2 L164.7 302.3 L168 308.2 L170.5 313.2 L172.2 317.3 L169.7 316.5 L166.3 312.3 L163 307.3 L159.7 302.3 L156.3 298.2 L153.3 294.8Z"/>
<path d="M141.3 257.3 L143.8 256.5 L146.3 259.8 L145.5 262.3 L143.8 264.8 L143 269 L142.2 274 L141 269 L141.7 263.2 L141 259.8Z"/>
<path d="M145.5 244 L144.7 249 L147.2 252.3 L150.5 251.5 L154.7 255.7 L159.7 251.5 L160.5 247.3 L157.2 244"/>
<path d="M149.7 245.7 L152.2 249.8 L155.5 248.2 L153.8 244.8"/>
<path d="M148 254 L153 256.5 L155.5 260.7"/>
<path d="M161.3 317.3 L163 319.8 L162.2 324 L163 329 L160.5 332.3 L159.7 337.3 L158 342.3 L155.5 347.3 L153 352.3 L150.5 357.3 L148 363.2 L146.3 369 L143.8 376.5"/>
<path d="M170.5 317.3 L172.2 320.7 L170.5 324 L168.8 327.3 L168 329"/>
<path d="M161.3 317.3 L165.5 319 L169.7 320.7"/>
<path d="M173.8 315.3 L188 318.7 L201.3 322.3 L214.7 325.3 L228 328.2 L240.5 330.7"/>
<path d="M160.5 333.2 L164.7 334.8 L165.5 339.8 L171.3 341.5 L178 342.3 L184.7 343.7 L191.3 344.8 L197.2 346"/>
<path d="M201.7 322.3 L199.7 334 L197.7 346"/>
<path d="M197.7 346 L198.8 350.7 L196.3 355.7 L193.8 360.7 L192.2 367.3 L190.5 376.5"/>
<path d="M205.5 323.7 L204.7 330.7 L207.2 337.3 L210.5 343.2 L212.2 347.3 L209.7 352.3 L213 354.8 L215.5 360.7 L218 364 L221.3 363.2 L224.7 364.8 L226.3 362.3 L240.5 364.3"/>
<path d="M226 362.7 L224.7 376.5"/>
<path d="M148 364.8 L159.7 368.2 L171.3 371.5 L183 374.8 L189.7 376.5"/>
<path d="M171.3 371.5 L170.5 376.5"/>
</g>
<g clip-path="url(#c6)">
<path d="M240 330.7 L256.7 333.2 L270 334.8 L283.3 335.7 L296.7 336.2 L305 336.2 L315 335.7"/>
<path d="M315 335.7 L315.8 331.5 L318.3 330.3 L320.8 332.3 L320 335.7 L317.5 336.5 L315.8 334.8Z"/>
<path d="M320 335.7 L324.2 338.2 L328.3 339 L332.5 340.7 L338.3 342.3 L342.5 343.7"/>
<path d="M269.2 334.8 L267.5 359 L266.7 367.3 L265.8 376.5"/>
<path d="M240 362.7 L253.3 364.3 L266.7 367"/>
<path d="M267.5 359 L280 359.8 L293.3 360.3 L306.7 360.7"/>
<path d="M305 336.2 L305.8 344 L306.7 352.3 L306.7 360.7 L307.5 364 L306.7 367.3 L308.3 376.5"/>
<path d="M297.5 294 L300 293.2 L302.5 295.7 L301.7 299 L303.3 302.3 L305 307.3 L306.7 312.3 L308.3 315.7 L310 319 L309.2 324 L307.5 325.7 L306.3 322.3 L305.8 317.3 L303.3 314 L300.8 310.7 L299.2 307.3 L298.3 304 L296.7 300.7 L295.8 297.3Z"/>
<path d="M285.8 304 L289.2 303.2 L292.5 304.8 L293.3 309 L291.7 312.3 L294.2 315.7 L296.7 314.8 L297.5 318.2 L299.2 322.3 L300.8 325.7 L298.3 327.3 L296.7 324 L295 319.8 L292.5 317.3 L290 314 L289.2 309.8 L288.3 306.5Z"/>
<path d="M279.2 276.5 L280.8 270.7 L283.3 263.2 L285.8 262.3 L285 267.3 L283.3 271.5 L282.5 274.8 L280 276.5Z"/>
<path d="M246.7 253.2 L249.2 250.7 L252.5 248.2 L256.7 244.8 L258.3 246.5 L257.5 249 L261.7 250.3 L266.7 251 L261.7 251.5 L256.7 251 L253.3 251.5 L250 254 L247.5 254.3Z"/>
<path d="M315.8 244 L315 249 L315.8 254.8 L318.3 258.2 L320.8 259 L322.5 262.3 L324.2 267.3 L325.8 270.7 L326.7 272.3 L330 270.3 L333.3 269.8 L337.5 271.5 L342.5 272.7"/>
</g>
<g clip-path="url(#c7)">
<path d="M342 273.2 L346.2 274.8 L351.2 277.3 L355.3 279.8 L358.7 282.3 L363.7 282 L368.7 281.5 L373.7 281 L374.5 284.8 L375.3 289 L376.2 293.2 L377.3 297.3 L379.5 299.8 L377.8 302.3 L382 304.8 L384.5 306.5 L387 308.2 L385.7 311.5 L389.5 309.8 L391.2 306.5 L393.7 308.2 L396.2 306.5 L395.3 301.5 L397.8 299.8 L394.5 298.2 L392.8 294.8 L391.2 290.7 L389.5 285.7 L387 282.3 L390.3 279.8 L393.7 276.5 L395 273.2 L396.2 269 L397.8 265.7 L395.3 264 L392.8 261.5 L390.3 258.2 L387.8 254 L384.5 251.5 L381.7 248.2 L382 244"/>
<path d="M377 297.3 L380.3 296 L383.3 297.7 L382 299.8 L379 299.3Z"/>
<path d="M381.7 269 L385 266.5 L386.7 271.5 L383.7 272.7Z"/>
</g>
<g clip-path="url(#c8)">
<path d="M460.7 244 L464 247.3 L467.3 245.7 L470.7 248.2 L473.2 246.5 L475.7 250.7 L478.2 249 L479.8 253.2 L475.7 255.7 L472.3 259 L474.8 259.8 L479 256.5 L483.2 252.3 L486.5 249.8 L490.7 248.2 L494 250.7 L497.3 255.7 L499.8 260.7 L499 265.7 L497.3 270.7 L494 273.2 L491.5 276.5 L489 279.8 L485.7 283.2 L481.5 286.5 L476.5 289 L471.5 291.5 L466.5 294 L462.3 297.3 L459 301.5 L456.5 305.7 L454.8 310.7 L452.3 315.7 L449.8 320.7 L447.3 325.7 L445.7 330.7 L444 334.8"/>
<path d="M499.8 260.7 L501.5 264.8 L500.7 270.7 L499.8 277.3 L499.8 284 L500.7 290.7 L499.8 295.7 L501.5 299.8 L505.7 298.2 L510.7 295.7 L515.7 294 L518.2 296.5 L519.8 292.3 L522.3 289.8 L524.8 287.3 L527.3 284 L529.8 286.5 L530.7 290.7 L533.2 289 L534.8 285.7 L533.2 282.3 L530.7 279.8 L529 281.5 L526.5 279.8 L524.8 276.5 L522.3 274 L519.8 274.8 L516.5 276.5 L512.3 278.2 L508.2 276.5 L504.8 273.2 L503.2 269 L502.3 264 L501.5 262.3"/>
<path d="M469 294.8 L473.2 293.2 L478.2 292.7 L483.2 293.7 L481.5 295.7 L476.5 296.5 L471.5 296.5Z"/>
<path d="M444 327.3 L446.5 322.3 L449 317.3 L451.5 312.3 L454 308.2 L457.3 304.8 L461.5 302.3 L465.7 300.7 L469.8 300.3 L472.3 302.3 L471.5 306.5 L469 309.8 L465.7 311.5 L464.8 313.2 L468.2 312.3 L471.5 310.7 L474 312.3 L475.7 314.8 L479 316.5 L483.2 317.3 L487.3 316.5 L491.5 314.8 L494 315.7 L497.3 314.8 L498.2 317.3 L496.5 319 L499.8 319.8"/>
<path d="M479.8 318.2 L483.2 317.3 L487.3 318.2 L491.5 317.3 L489 319.8 L484.8 320.7 L481.5 319.8Z"/>
<path d="M497.3 308.2 L499.8 309.8 L501.5 313.2 L503.2 315.7 L501.5 318.2 L499 319 L499.8 315.7 L498.2 312.3Z"/>
</g>
<g clip-path="url(#c9)">
<path d="M143 376 L143.8 382.7 L144.7 389.3 L145.5 394.3 L147.2 398.5 L146.3 401 L148 403.5 L147.2 406 L148 411 L148.8 417.7 L149.7 424.3 L150.5 428.5 L153.8 430.2 L157.2 431.8 L160.5 435.2 L163 439.3 L165.5 442.7 L167.2 446.8 L168.8 451"/>
<path d="M146.3 397.7 L148 399.3 L148.8 402.7 L147.2 401"/>
<path d="M149.7 433.5 L153 434.3"/>
<path d="M153.8 440.2 L154.7 441.3"/>
<path d="M159.7 441.8 L160.5 444.3"/>
<path d="M159.7 445.2 L161 446.3"/>
<path d="M168.8 451 L176.3 452.7 L184.7 454.3"/>
<path d="M168.8 451 L169.7 457.7 L171.3 464.3 L173 471 L173.8 476 L175.5 481 L178 486 L179.7 491 L177.2 492.7 L173.8 494.3 L176.3 496 L180.5 498.5 L183 502.7 L185.5 508.5"/>
<path d="M184.7 454.3 L183 459.3 L181.7 462.7 L182.7 469.3 L183.8 476 L186.3 482.7 L188 489.3 L189.7 496 L192.2 502.7 L193.8 508.5"/>
<path d="M184.7 454.3 L188 459.3 L191.3 464.3 L193 469.3 L194.7 476 L196.3 482.7 L195.5 487.7 L197.7 492.7 L201.8 497.7 L205.3 503 L208 508.5"/>
<path d="M186.3 482.7 L188 481.8 L189.7 485.2 L188.8 487.7 L187.2 486Z"/>
<path d="M193.8 486 L195.5 485.2 L196.3 488.5 L194.7 489.3Z"/>
<path d="M152.2 476.8 L153.3 476 L153.8 478 L152.7 478.5Z"/>
<path d="M172.2 489.3 L173.3 488.5 L173.8 491 L172.7 491.3Z"/>
<path d="M168.8 376 L163.8 394.3 L176.3 417.7 L188 432.7 L191 440.2 L189.7 442.7 L186.3 446.8 L184.7 449.3 L183 453.5 L184.7 454.3"/>
<path d="M191 440.2 L190.5 431 L192.2 426 L194.7 425.2 L196.3 421.8 L197.2 420.2"/>
<path d="M205.5 382.7 L197.2 420.2"/>
<path d="M197.2 420.2 L211.3 423.5 L228 426.8 L240.5 429"/>
<path d="M186.3 376 L205.5 382.3 L222.2 384.3"/>
<path d="M223.8 376 L222.2 384.3 L221.3 392.7 L233 394.7 L240.5 395.7"/>
<path d="M233 394.7 L228.8 426"/>
<path d="M228 426.8 L224.7 449.3 L221.3 472.3"/>
<path d="M184.7 454.3 L193 459.3 L201.3 465.2 L208 470.2 L221.3 472.3 L227.2 473 L228 470.2 L240.5 471"/>
<path d="M210.5 385.2 L212.2 386 L213.8 389.3 L215.5 392.7 L213.8 393.5 L212.2 391 L211 388.5Z"/>
</g>
<g clip-path="url(#c10)">
<path d="M240 396 L263.3 397.7 L275.8 399.3"/>
<path d="M265 376 L265 382.7 L263.3 397.7"/>
<path d="M265 382.7 L286.7 384 L306.7 385.5 L309.2 386"/>
<path d="M275.8 399.3 L275 407.7"/>
<path d="M275 407.7 L295 408.2 L313.3 408.5 L317.5 409.3"/>
<path d="M275 407.7 L273.3 431.8"/>
<path d="M240 428.5 L266.7 431 L273.3 431.8 L298.3 432.3 L321.7 432.7"/>
<path d="M266.7 431 L267.5 436 L286.7 436.3 L285.8 451.8"/>
<path d="M267.2 431.8 L265 451.8 L263.3 471.8"/>
<path d="M240 469.3 L263.3 471.8"/>
<path d="M285.8 451.8 L290 453.5 L295 456 L300 457.7 L305 458.5 L308.3 456.8 L311.7 458.5 L316.7 457.7 L323.3 459.3 L326.7 461"/>
<path d="M309.2 376 L308.7 381 L310 386 L311.7 392.7 L313.3 399.3 L314.2 403.5 L318.3 409.3 L320.8 414.3 L321.7 419.3 L322 432.7 L322.5 446 L323.3 459.3"/>
<path d="M326.7 461 L327.5 464.3 L342.5 463.5"/>
<path d="M327.5 464.3 L328.3 476 L330.8 482.7 L330 489.3 L330.8 492.7"/>
<path d="M314.2 403.5 L342.5 402.7"/>
<path d="M322.5 436.8 L342.5 435.2"/>
<path d="M309.2 380.7 L342.5 378.5"/>
<path d="M240 470.2 L243.3 474.3 L248.3 479.3 L251.7 489.3 L256.7 492.7 L260.8 496 L264.2 491.8 L269.2 490.2 L273.3 492.7 L277.5 500.2 L280.8 508.5"/>
<path d="M342.5 491 L336.7 490.2 L330.8 492.7 L326.7 494.3 L321.7 496 L316.7 500.2 L311.7 502.7 L306.7 506 L304.2 508.5"/>
<path d="M340 397.7 L342 401 L340 406 L342.5 409.3"/>
</g>
<g clip-path="url(#c11)">
<path d="M365.3 446 L366.2 459.3 L367 472.7 L367.8 482.7 L367 484.3"/>
<path d="M382.8 443.5 L387 456 L390.3 467.7 L391.2 476"/>
<path d="M367.8 478.5 L373.7 477.3 L382 476.5 L391.2 476"/>
<path d="M391.2 476 L400.3 475.7 L411.2 475.2 L412 471.8 L415.3 472.7"/>
<path d="M346.2 460.2 L345.3 469.3 L344.5 479.3 L352 480.2 L358.7 480.2 L359.5 484.3 L360.3 487.7"/>
<path d="M351.2 439.3 L349.5 444.3 L347.8 449.3 L346.2 454.3 L347 460.2 L346.2 464.3"/>
<path d="M367 484.3 L368.7 482.7 L371.2 481.8 L375.3 482.7 L380.3 483.5 L385.3 482.7 L389.5 484.3 L392.8 486 L395.3 483.5 L396 482.2 L399.3 481.7 L402.7 483.3 L406 485.7 L408.8 488.3 L410.3 491.7 L411 495.7 L412.7 498.8 L414.8 502.8 L417.7 506.7 L420.3 510"/>
<path d="M342 491 L345.3 492.7 L348.7 494.3 L352 495.2 L356.2 492.7 L358.7 491 L362 491.8 L363.7 494.3 L361.2 495.2 L357.8 496 L354.5 494.7 L352 492.7 L355.3 491 L359.5 489.3 L362.8 488 L360.3 486 L356.2 486.8 L352.8 486 L354.5 484.3"/>
<path d="M415.3 472.7 L416.2 467.7 L417 462.7 L418.7 459.3 L421.2 455.2 L423.7 451.8 L427 447.7 L430.3 443.5 L433.7 440.2 L436.2 436.8 L438.7 432.7 L437.8 429.3 L440.3 426 L439.5 421.8 L442 417.7 L440.3 413.5 L442 409.3 L439.5 406 L437.8 401"/>
<path d="M415.3 470 L417.2 474.3 L419.8 480 L423.2 485.7 L426 490.7 L429.3 495.7 L432.2 500.7 L433.8 505.7 L434.3 511.2"/>
<path d="M398.7 441.8 L403.7 446 L408.7 451 L412.8 456 L416.2 460.2 L417.8 462.7"/>
<path d="M398.7 441.8 L405.3 438.5 L413.7 437.7 L422 439.3 L428.7 444.3"/>
<path d="M358.7 431 L392 424.3 L417 419.7 L440.3 415.2"/>
<path d="M432 397.7 L434.5 401 L433.7 406 L436.2 409.3 L435.3 414.3 L437.8 417.7"/>
<path d="M437.8 392.7 L440.3 397.7 L439.5 402.7 L442 407.7 L441.2 412.7 L444 416"/>
<path d="M442 389.3 L444.5 392.7"/>
<path d="M426.2 501 L427.8 500.2 L428.7 503.5 L427 504.7Z"/>
</g>
<g clip-path="url(#c12)">
<path d="M365.3 446 L366.2 459.3 L367 472.7 L367.8 482.7 L367 484.3"/>
<path d="M382.8 443.5 L387 456 L390.3 467.7 L391.2 476"/>
<path d="M367.8 478.5 L373.7 477.3 L382 476.5 L391.2 476"/>
<path d="M391.2 476 L400.3 475.7 L411.2 475.2 L412 471.8 L415.3 472.7"/>
<path d="M346.2 460.2 L345.3 469.3 L344.5 479.3 L352 480.2 L358.7 480.2 L359.5 484.3 L360.3 487.7"/>
<path d="M351.2 439.3 L349.5 444.3 L347.8 449.3 L346.2 454.3 L347 460.2 L346.2 464.3"/>
<path d="M367 484.3 L368.7 482.7 L371.2 481.8 L375.3 482.7 L380.3 483.5 L385.3 482.7 L389.5 484.3 L392.8 486 L395.3 483.5 L396 482.2 L399.3 481.7 L402.7 483.3 L406 485.7 L408.8 488.3 L410.3 491.7 L411 495.7 L412.7 498.8 L414.8 502.8 L417.7 506.7 L420.3 510"/>
<path d="M342 491 L345.3 492.7 L348.7 494.3 L352 495.2 L356.2 492.7 L358.7 491 L362 491.8 L363.7 494.3 L361.2 495.2 L357.8 496 L354.5 494.7 L352 492.7 L355.3 491 L359.5 489.3 L362.8 488 L360.3 486 L356.2 486.8 L352.8 486 L354.5 484.3"/>
<path d="M415.3 472.7 L416.2 467.7 L417 462.7 L418.7 459.3 L421.2 455.2 L423.7 451.8 L427 447.7 L430.3 443.5 L433.7 440.2 L436.2 436.8 L438.7 432.7 L437.8 429.3 L440.3 426 L439.5 421.8 L442 417.7 L440.3 413.5 L442 409.3 L439.5 406 L437.8 401"/>
<path d="M415.3 470 L417.2 474.3 L419.8 480 L423.2 485.7 L426 490.7 L429.3 495.7 L432.2 500.7 L433.8 505.7 L434.3 511.2"/>
<path d="M398.7 441.8 L403.7 446 L408.7 451 L412.8 456 L416.2 460.2 L417.8 462.7"/>
<path d="M398.7 441.8 L405.3 438.5 L413.7 437.7 L422 439.3 L428.7 444.3"/>
<path d="M358.7 431 L392 424.3 L417 419.7 L440.3 415.2"/>
<path d="M432 397.7 L434.5 401 L433.7 406 L436.2 409.3 L435.3 414.3 L437.8 417.7"/>
<path d="M437.8 392.7 L440.3 397.7 L439.5 402.7 L442 407.7 L441.2 412.7 L444 416"/>
<path d="M442 389.3 L444.5 392.7"/>
<path d="M426.2 501 L427.8 500.2 L428.7 503.5 L427 504.7Z"/>
</g>
<g clip-path="url(#c13)">
<path d="M441 501.7 L443.2 502.8 L446 501.2 L448.2 499.3 L449.3 497.8 L451.7 497.2 L454.3 498.3 L456 500.7 L456.7 503.3 L455.3 505 L454.3 502.8"/>
<path d="M522.7 424 L523.3 424.7 L523.7 425.5 L523 425"/>
<path d="M459.8 506.8 L463.2 508.5"/>
</g>
<g clip-path="url(#c14)">
<path d="M177.2 480 L179.7 485 L181.7 490 L180.5 493.3 L177.2 495 L173.8 493.3 L173.8 494.2 L177.2 497.5 L181.3 501.7 L185.5 505 L188 509.2 L190.5 513.3 L191.3 518.3 L188.8 522.5 L191.3 525.8 L195.5 530 L198.8 533.3 L202.2 537.5 L203.8 542 L206.3 540.8 L207.2 537.5 L205.5 533.3 L202.2 530 L200.5 525 L198.8 519.2 L196.3 513.3 L195.5 507.5 L193 501.7 L191.3 495.8 L188.8 490 L187.2 485 L185.5 480"/>
<path d="M172.2 488.3 L173.3 488 L173.8 491.3 L172.7 491.7Z"/>
<path d="M193.8 486.7 L195.5 485.8 L196 488.3 L194.3 488.7Z"/>
<path d="M194.3 506.7 L195.5 506.3 L195.8 508.3"/>
<path d="M194.7 480 L197.2 485 L200.5 490 L203.8 495 L205.5 499.2 L204.7 501.7 L208 505.8 L211.3 510 L213.8 513.3 L211.3 516.7 L212.2 520 L216.3 521.7 L219.7 525 L221.3 528.3 L224.7 531.7 L227.2 535.8 L229.7 540 L233 545 L235.5 550 L237.2 555 L238 560 L240.5 563.3"/>
<path d="M240.5 565 L237.2 567.5 L234.7 570.8 L236.3 575 L238.8 578.3 L240.5 580"/>
</g>
<g clip-path="url(#c15)">
<path d="M247.5 480 L249.2 485 L251.7 490 L256.7 494.2 L260.8 496.7 L265 491.7 L270 490.8 L273.3 492.5 L276.7 498.3 L280.8 505 L285 510 L287.5 515.8 L290 520 L295 522.5 L300 524.2 L303.3 525.8 L305 529.2"/>
<path d="M342.5 491.7 L336.7 491.3 L331.7 490.8 L330 492.5 L325.8 494.2 L321.7 495.8 L318.3 498.3 L314.2 500.8 L310 503.3 L305.8 506.7 L303.3 510.8 L301.7 515 L302.5 520 L304.2 525 L305 529.2"/>
<path d="M307.5 501.7 L305.8 505 L303.3 509.2 L302 514.2"/>
<path d="M305 529.2 L301.7 531.7 L300 536.7 L300.3 543.3 L300.8 550 L301.7 556.7 L303.3 561.7 L304.2 565 L306.7 570 L309.2 575 L311.7 580 L314.2 585.3"/>
<path d="M240 578.3 L243.3 581.7 L247.5 585.3"/>
</g>
<g clip-path="url(#c16)">
<path d="M342 490.8 L345.3 492.5 L348.7 494.2 L352 495 L356.2 492.5 L358.7 490.8 L362 491.7 L363.7 494.2 L361.2 495 L357.8 495.8 L354.5 494.7 L352 492.5 L355.3 490.8 L359.5 489.2 L362.8 488 L360.3 485.8 L356.2 486.7 L352.8 485.8 L354.5 484.2"/>
<path d="M367 484.2 L368.7 482.5 L371.2 481.7 L375.3 482.5 L380.3 483.3 L385.3 482.5 L389.5 484.2 L392.8 485.8 L396 482.2 L399.3 481.7 L402.7 483.3 L406 485.7 L408.8 488.3 L410.3 491.7 L411 495.7 L412.7 498.8 L414.8 502.8 L417.7 506.7 L420.3 510 L423.2 512.8 L426 515 L428.2 517.8 L430.3 517.8 L432.2 516.7"/>
<path d="M419.8 480 L423.2 485.7 L426 490.7 L429.3 495.7 L432.2 500.7 L433.8 505.7 L434.3 511.2 L433.2 515.7 L431.7 518.3 L428.8 520.7 L426 522.8 L424.3 524.3"/>
<path d="M425.5 502.2 L427.2 500.5 L428.8 502.2 L427.7 504.5 L426 503.8Z"/>
<path d="M444.8 536.7 L440.3 534.3 L436 533.8 L431.7 534.3 L426 535.7 L420.3 537.2 L414.8 540 L410.3 543.3 L407.2 547.8 L404.3 551.7 L407.2 552.2 L408.8 550 L412.7 546.7 L417.2 543.3 L421.7 541.2 L426 540.5 L427.7 541.7 L426 543.3 L429.3 543.8 L433.8 543.3 L438.3 542.8 L442.7 543.3 L447.2 544.5"/>
<path d="M418.2 550 L419.8 548.3 L422.2 549.5 L422.7 551.7 L420.5 552.8 L418.8 552.2Z"/>
<path d="M354.5 585 L356.2 580 L358.7 575 L359.5 570 L360.3 565 L362.8 561.7 L367 560 L371.2 559.2 L375.3 558 L379.5 557.5 L384.5 557.2 L388.7 558 L390.3 561.7 L389.5 565 L390.3 567.5 L388.7 565.8 L387 569.2 L385.7 573.3 L385 578.3 L385.7 582.5 L385 585.3"/>
<path d="M380.3 583.3 L381.7 582 L382.7 583.7 L382 585.3 L380.7 585.3Z"/>
<path d="M442 501.7 L444.5 502.5"/>
</g>
<g clip-path="url(#c17)">
<path d="M444 501.7 L446.5 499.2 L449.8 497.5 L453.2 498.3 L455.7 500.8 L454.8 504.2 L456 505"/>
<path d="M460.7 506.3 L463.2 506.7 L465.3 508.3"/>
<path d="M465.3 510.8 L468.2 512.5"/>
<path d="M470.7 513.3 L473.2 515 L474.3 514.2"/>
<path d="M479.8 513 L480.3 514.2"/>
<path d="M475.7 519.2 L477.3 521.7 L479 523.7 L480.3 523"/>
<path d="M484.8 523.7 L486.5 524.7 L487.7 527.5 L486.5 526.7"/>
<path d="M494 523.7 L497.3 523.3"/>
<path d="M503.2 524.7 L506.5 524.2 L508.2 525.3"/>
<path d="M449.8 513.3 L452.3 512.5 L454.8 515.8 L457.3 520 L458.2 523 L455.7 521.7 L453.2 519.2 L451 516.7Z"/>
<path d="M494.8 534.2 L497 532.5 L498.7 533.3 L498.2 535.8 L496 536.3Z"/>
<path d="M444 537.5 L448.2 536.7 L452.3 535.8 L456.5 537.5 L460.7 538.3 L465.7 539.2 L471.5 540 L477.3 540.8 L483.2 542.5 L488.2 544.2 L492.3 545 L489 547.5 L484.8 549.2 L479.8 550.8 L474.8 551.7 L470.7 553.3 L467.3 555.8 L465.7 553.3 L466.5 550 L462.3 548.3 L458.2 546.7 L454 545 L449.8 544.2 L446.5 544.7 L444 545.3"/>
<path d="M451.5 535.8 L454 535 L457.3 535.8 L459.8 537.5 L456.5 538.3"/>
<path d="M464.3 570 L467.3 567.5 L471.5 566.3 L476.5 566.7 L480.7 567.5 L482 569.2 L478.2 570.8 L473.2 572.5 L469 572 L465.7 571.3Z"/>
<path d="M500.7 545.8 L501.5 542.5 L504.8 540.8 L509 540.8 L513.2 539.2 L518.2 537.5 L523.2 537.5 L528.2 538.3 L533.2 539.2 L534 538 L537.3 539.2 L540.7 540.8 L542.7 543.3 L541.5 545.8 L538.2 547.5 L534.8 546.7 L531.5 548.3 L528.2 550 L525.7 552.5 L522.3 554.2 L520.7 557.5 L518.2 556.7 L515.7 555 L512.3 555.8 L508.2 556.7 L504 557.5 L499.8 559.2 L496.5 560.3 L495.7 558.3 L499 556.7 L503.2 555 L507.3 554.2 L510.7 552.5 L508.2 550.8 L504.8 550 L502.3 548.3 L500.7 545.8"/>
<path d="M503.2 551.7 L506.5 551.3 L507.3 553.3 L504 553.3 L503.2 551.7"/>
<path d="M552 551.3 L555.3 549.7 L560.7 548.7 L563.7 549.7 L562.7 552 L559 553.3 L554.8 554.2 L552.3 553.3Z"/>
<path d="M567.3 547.5 L568.2 548.3"/>
<path d="M570.3 550 L571 550.8"/>
</g>
<g clip-path="url(#c18)">
<path d="M132.4 196 L134.7 198.2 L138 200.4 L136.3 202.7 L138.6 206 L141.9 207.1 L143.6 210.4 L144.7 213.8 L146.9 212.7 L150.2 211 L154.1 211 L155.6 213.8 L155.8 218.2 L156.3 223.8 L157.1 229.3 L157.4 234.9 L158 240.4 L160.2 244.9 L162.4 249.3 L160.2 252.7 L158 256 L155.8 258.2 L155.2 262.7 L156.3 267.1 L154.7 269.3 L156.3 273.8 L157.4 278.2 L158 284.3"/>
<path d="M136.3 202.7 L140.2 204.9 L141.3 208.2"/>
<path d="M140.2 208.2 L141.3 212.7 L142.4 217.1 L143.6 221.6 L142.4 226 L143.6 230.4 L142.4 234.9 L144.7 239.3 L145.8 243.8 L144.7 248.2 L145.8 252.7"/>
<path d="M144.7 214.9 L146.3 219.3 L144.7 223.8 L146.3 228.2 L144.7 232.7 L146.9 237.1 L148.6 241.6 L147.4 246 L149.1 250.4 L150.2 253.8"/>
<path d="M150.2 212.7 L149.1 217.1 L150.8 221.6 L149.7 226 L151.9 230.4 L150.2 234.9 L152.4 239.3 L151.3 243.8 L153.6 248.2 L153 252.7 L155.2 256"/>
<path d="M153 216 L154.1 220.4 L153 224.9 L154.7 229.3 L153.6 233.8 L155.2 238.2 L154.7 242.7 L156.3 247.1 L155.8 251.6"/>
<path d="M151.3 262.7 L153 267.1 L154.1 264.9 L155.2 269.3 L153.6 272.7 L155.2 276"/>
<path d="M141.3 256.6 L143 258.2 L145.2 259.3 L147.4 259.9 L145.8 262.1 L144.1 264.9 L143 268.2 L141.9 271.6 L142.4 274.3 L141.3 271.6 L140.4 267.1 L141.1 262.7 L140.8 259.3Z"/>
<path d="M142.4 218.8 L144.7 219.9 L145.8 218.2"/>
<path d="M147.4 223.2 L150.2 224.3 L151.6 222.7"/>
<path d="M143 229.3 L145.2 230.4 L146.9 228.8"/>
<path d="M149.7 232.7 L151.9 234.3 L153.8 232.7"/>
<path d="M144.7 239.9 L147.1 240.4 L148.6 238.8"/>
<path d="M151.3 242.7 L153.8 243.8 L155.2 242.1"/>
<path d="M146.3 248.2 L148.6 249.1 L150.2 247.3"/>
<path d="M153.3 250.4 L155.8 249.3 L157.1 251"/>
</g>
<g clip-path="url(#c19)">
<path d="M329.2 339.7 L334.3 340.8 L341 342.5 L346 340 L349.3 336.7 L351.8 334.7 L355 335 L358.3 334.2 L361.7 335.8 L364.2 339.2 L365.8 341.7 L369.2 340.8 L370.8 343.3 L372.5 346.7 L374.2 349.2 L375.8 351.7 L378.3 352.5 L381.7 353.3"/>
<path d="M341 342.5 L338.3 346.7 L335 350.8 L331.8 355"/>
<path d="M381.7 353.3 L377.5 353 L373.3 351.7 L370 350 L365.8 350.8 L362.5 351.7 L359.2 352.5 L356.7 350 L355 347.5 L353.3 345.8 L350.8 349.2 L352.5 351.7 L349.2 352.5 L345.8 353.3 L342.5 354.2 L340 352.5 L341.7 350 L338.3 351.7 L335 353.3 L331.8 355"/>
<path d="M347.5 340.8 L350.8 339.2 L351.7 340 L348.3 341.7Z"/>
<path d="M359.2 352.5 L360.8 355.8 L359.2 359.2 L357.5 363.3 L356.7 368.3 L358.3 365 L360 360.8 L362.5 357.5 L365 355.8 L368.3 354.2 L371.7 353.3 L374.2 352.5 L377.5 353"/>
<path d="M356.7 368.3 L358.3 375 L360 381.7 L361.7 387.5 L363.3 390.8 L365.8 390 L368.3 387.5 L369.7 384.2 L368.7 378.3 L367 371.7 L366.3 365.8 L367.5 360.8 L370 357.5 L371.7 355.8"/>
<path d="M370 357.5 L370.8 361.7 L369.7 365"/>
<path d="M374.2 352.5 L378.3 355.8 L380.8 360 L382.5 364.2 L383.3 368.3 L381.7 371.7 L380.8 373.3 L383.3 371.7 L385.8 369.2 L388.3 368.3 L390 371.7 L390.8 376.7 L390 380.8 L388.3 384.2 L387.5 387.5"/>
<path d="M381.7 353.3 L385.8 352.5 L390 351.7 L394.2 352.5 L396.7 354.2 L399.2 356.7 L401.7 359.2 L402.5 360.8 L400 361.7 L397.5 360 L395 358.3 L393.3 356.7 L392.5 360 L393.3 364.2 L394.2 368.3 L393.3 373.3 L391.7 376.7 L390.8 380 L389.7 382.5"/>
<path d="M385 353.3 L389.2 353 L392.5 354.2 L388.3 354.7 L385 353.3"/>
<path d="M387.5 387.5 L388.3 384.2 L389.7 382.5 L390.8 384.2 L389.2 386.7"/>
<path d="M387.5 387.5 L390 389.2 L394.2 388 L398.3 385.8 L402.5 383 L405.8 380 L409.2 376.7 L410 374.2"/>
<path d="M390.8 383.3 L394.2 381.7 L398.3 379.2 L402.5 377.5 L406.7 375.3 L409.7 373.7"/>
<path d="M405.8 370.8 L407.5 367.5 L411.7 365 L415.8 364.2 L420.8 361.7 L424.2 358.3 L426.7 354.2 L430 351.3 L432.5 350.3"/>
<path d="M405.8 370.8 L410 371.3 L414.2 370 L418.3 368.3 L422.5 365.8 L425 362.5 L427.5 359.2 L430 355.8 L432.5 354.2"/>
<path d="M342.5 354.2 L346.7 355.8 L351.7 357.5 L356.7 360.8 L357.5 363.3"/>
<path d="M331.8 355 L329.3 360 L328.5 365 L331 370 L334.3 373.3 L337.7 376.7 L340.2 380"/>
<path d="M342.5 386.7 L351.7 385.8 L361.7 385"/>
<path d="M338.3 379.2 L340.8 382.5 L342.5 386.7 L345.8 390 L346.7 393.3 L344.2 396.7 L341.7 400 L340 403.3 L342.5 406.7 L345 410.8 L346.7 415 L349.2 418.3 L348.3 421.7 L351.7 424.2 L354.2 427.5 L356.7 430"/>
<path d="M330 379.2 L338.3 379.2"/>
<path d="M330 403.3 L340 402.5"/>
<path d="M361.7 387.5 L362.5 391.7 L364.2 400 L365.3 410 L365.8 416.7 L364.2 420.8 L362.5 424.2 L360 426.7 L356.7 430"/>
<path d="M378.7 389.2 L380 398.3 L381.3 406.7 L382 410.8"/>
<path d="M363.3 391.3 L371.7 390 L378.7 389.2 L383.3 388.3 L387.5 387.8"/>
<path d="M356.7 430 L359.2 428.3 L361.7 425.8 L364.2 422.5 L367.5 421.7 L370.8 420 L374.2 418.3 L377.5 415.8 L380 413.3 L382 410.8 L385.8 410 L390 411.7 L394.2 412.5 L396.7 410.8 L398.3 408.3 L400 405 L403.3 402.5 L405.8 400 L406.7 396.7 L405.8 393.3"/>
<path d="M396.7 410.8 L399.2 416.7 L401.7 420 L405 418.3 L408.3 415.8 L411.7 412.5 L414.2 409.2 L416.7 405.8 L418.3 402.5 L417.5 400 L414.2 399.2"/>
<path d="M404.2 379.2 L405 386.7 L405.8 393.3 L406.3 399.7"/>
<path d="M408.3 378.3 L420 376.3 L432.5 374.2"/>
<path d="M406.3 399.7 L416.7 397.5 L426.7 395.3 L432.5 394.2"/>
<path d="M418.3 402.5 L420.8 400 L423.3 398.3 L425.8 396.7 L428.3 397.5 L430 400 L432.5 401.7"/>
<path d="M355 435 L371.7 431.7 L388.3 428.3 L405 425 L421.7 421.7 L432.5 419.7"/>
<path d="M390 440 L395 435 L400 430 L404.2 425.8"/>
<path d="M356.7 430 L355 435 L353.3 440 L351.7 446.7 L350.8 452.5"/>
<path d="M330 435 L350 433.7 L351.7 436.7 L350 439.2"/>
<path d="M351.7 446.7 L363.3 445.3 L380 443.3 L396.7 440.3"/>
<path d="M396.7 440.3 L401.7 437.5 L408.3 436.7 L416.7 437.5 L423.3 440 L428.3 444.2 L432.5 446.7"/>
<path d="M396.7 440.3 L400 436.7 L405 433.3 L410 430 L413.3 426.7"/>
<path d="M403.3 444.2 L408.3 448.3 L411.7 452.5"/>
<path d="M380 443.3 L382.5 452.5"/>
<path d="M365 445.3 L365.8 452.5"/>
</g>
<g clip-path="url(#c20)">
<path d="M501.2 320 L498.7 322.5 L496.2 325.8 L492 328.3 L489.5 331.7 L487 335 L486.2 339.2 L484.5 342.5 L482 344.2 L479.5 342.5 L478.7 339.2 L479.5 335.8 L481.2 332.5 L482 329.2 L481.2 325.8 L482.8 324.2 L486.2 326.7 L487.8 325"/>
<path d="M477.8 320 L482 321.7 L487 320.8 L491.2 323.3 L495.3 321.7 L500.3 320"/>
<path d="M481.2 325.8 L479.5 329.2 L477.8 333.3 L475.3 336.7 L472.8 339.2 L470.3 340.8"/>
<path d="M470.3 340.8 L467.8 343.3 L465.3 345 L463.7 346.7 L462 345.8 L462.8 348.3 L460.3 350.8 L458.7 354.2 L457 357.5 L456.2 361.7 L457 365 L459.5 365.8 L462 365 L463.7 367.5 L462.8 370 L460.3 369.2 L458.7 370.8 L457 370"/>
<path d="M457 370 L455.3 372.5 L452.8 374.2 L449.5 376.7 L446.2 379.2 L443.7 381.7 L442.8 384.2"/>
<path d="M443.7 383.3 L447.8 380 L452 377.5 L455.3 375.8 L452.8 378.3 L448.7 381.3 L445.3 383.7"/>
<path d="M442.8 384.2 L444.5 388.3 L443.7 393.3 L442 397.5 L440.3 400 L439.5 398.3 L438.7 401.7"/>
<path d="M438.7 401.7 L437 398.3 L437.8 395.8 L436.2 400 L437.8 403.3 L440.3 406.7 L441.2 410.8 L440.3 415"/>
<path d="M440.3 415 L438.7 420 L437 415.8 L436.2 410.8 L434.5 406.7 L433.7 401.7 L432.8 397.5 L432 395"/>
<path d="M432 398.3 L433.7 403.3 L432.8 408.3 L434.5 413.3 L433.7 418.3 L432 420"/>
<path d="M438.7 420 L441.2 421.7 L444.5 424.2 L446.2 427.5 L444.5 431.7 L442 433.3 L440.3 430.8 L438.7 428.3 L441.2 426.7 L439.5 424.2 L437 425 L437.8 429.2 L439.5 435 L437 440 L434.5 444.2 L432.8 449.2 L432 451.7"/>
<path d="M444.5 330 L447 325 L449.5 320.8 L451.2 322.5 L456.2 321.7 L459.5 324.2 L462.8 330 L465.3 335.8 L467.8 340 L470.3 340.8"/>
<path d="M457 357.5 L455.3 352.5 L452.8 346.7 L450.3 341.7 L447.8 343.3"/>
<path d="M432 350 L437.8 348 L447.8 345 L447.8 343.3 L444.5 330"/>
<path d="M447.8 345 L448.7 351.7 L447.8 358.3 L446.2 364.2"/>
<path d="M437.8 348 L439.5 355 L440.3 361.7 L441.2 365.8"/>
<path d="M441.2 365.8 L446.2 364.2 L452 362.5 L456.2 361.7"/>
<path d="M442 370.8 L447.8 369.7 L453.7 368.3 L457 370"/>
<path d="M441.2 365.8 L442 370.8 L442.8 376.7 L443.7 381.7"/>
<path d="M453.7 368.3 L454.5 373.3"/>
<path d="M432 375 L437 373.7 L439.5 375 L440.3 377.5 L438.7 380 L442.8 384.2"/>
<path d="M438.7 380 L437 384.2 L439.5 388.3 L437 392.5 L438.7 395.8 L437.8 398.3"/>
<path d="M432 394.2 L436.2 393.3 L437.8 395"/>
<path d="M437 395.8 L437.8 403.3 L439.5 406.7"/>
</g>
<g clip-path="url(#c21)">
<path d="M372 430.9 L391.1 428.3 L410.2 424.5 L429.4 420.7 L443.4 418.1"/>
<path d="M372 444.3 L382.8 443 L397.5 441.3"/>
<path d="M390.5 441.1 L394.3 436.6 L399.4 431.5 L403.9 428.3 L405.8 426.4"/>
<path d="M397.5 441.5 L402.6 438.5 L410.2 436.6 L415.3 438.1 L423 440.2 L429.4 443.6 L433.2 442.3"/>
<path d="M397.5 441.5 L401.3 445.5 L405.1 450 L409 453.2 L412.8 457 L416 460.8 L417.2 461.5"/>
<path d="M382.8 443 L385.4 451.9 L388.6 463.4 L389.8 471 L391.1 476.8"/>
<path d="M391.1 476.8 L400 476.1 L410.2 475.5 L413.4 474.8 L413.4 472.3 L416 473.6"/>
<path d="M372 477.6 L382.2 476.8 L391.1 475.9"/>
<path d="M372 479.9 L375.8 482.5 L379.6 481.9 L384.7 483.8 L389.8 485.7 L393.7 486.3 L396.2 484.4 L399.4 483.1 L403.2 483.8 L406.4 486.3 L409 490.1 L410.2 493.3"/>
<path d="M416 473.6 L416.6 468.5 L416.9 463.4 L417.2 461.5 L419.2 458.3 L421.1 455.7 L419.8 457.6 L423 453.2 L425.5 449.4 L428.7 444.9 L431.9 442.3 L434.5 441.1 L437 437.9 L439.6 434.7 L442.1 431.5 L444.6 429 L445.9 425.8 L445.3 422.6 L443.4 420.7 L441.5 419.4"/>
<path d="M416 473.6 L417.2 478.7 L419.8 483.8 L423 488.9 L425.5 493.3"/>
<path d="M440.8 419.4 L442.7 422 L444.6 424.5 L445.3 427.7 L443.4 430.2 L441.5 431.5 L439.6 430.2 L438.3 427.7 L440.2 426.4 L438.9 423.9 L437 422.6 L438.3 420.7"/>
<path d="M433.2 392 L432.5 395.8 L434.5 399.6 L433.2 403.5 L435.1 407.3 L434.5 411.1 L436.4 414.9 L438.3 416.2 L440.2 413.7 L441.5 409.8 L440.8 406 L442.1 402.2 L441.5 398.4 L442.7 394.5 L443.4 392"/>
<path d="M435.7 394.5 L437 399 L435.7 402.8 L437.6 406 L436.7 409.8 L438.3 412.4"/>
<path d="M438.9 393.3 L439.6 397.1 L438.5 400.9 L439.8 404.7 L439.3 408.6"/>
<path d="M379 392 L380.9 402.2 L382.2 409.2"/>
<path d="M382.2 409.2 L379.6 413 L377.1 416.9 L374.5 419.4 L372 420.7"/>
<path d="M382.2 409.2 L387.3 411.1 L392.4 412.4 L396.2 411.1 L398.8 407.3 L402.6 403.5 L405.4 399.6 L406.4 395.8 L405.8 392"/>
<path d="M396.2 412.4 L397.5 416.2 L400.7 419.4 L403.2 421.3"/>
<path d="M403.2 421.3 L406.4 418.8 L410.2 416.2 L412.8 412.4 L414.7 408.6 L414.1 404.7 L417.2 402.2 L419.8 400.3 L423 399 L424.3 397.7"/>
<path d="M403.2 421.3 L399.4 425.1 L396.2 428.3"/>
<path d="M406.4 399.6 L416.6 397.7 L429.4 394.8 L435.7 393.3"/>
<path d="M424.3 397.7 L426.8 399.6 L428.7 398.4 L430 400.3 L431.9 399"/>
<path d="M414.1 399.6 L416 401.6 L419.2 400.9"/>
<path d="M426.8 399.9 L430 401.6 L431.9 403.5 L433.8 406"/>
</g>
<g clip-path="url(#c22)">
</g>
<g clip-path="url(#c23)">
</g>
<g clip-path="url(#c24)">
</g>
<g clip-path="url(#c25)">
</g>
<g clip-path="url(#c26)">
</g>
<g clip-path="url(#c27)">
</g>
<g clip-path="url(#c28)">
</g>
<g clip-path="url(#c29)">
</g>
<g clip-path="url(#c30)">
</g>
<g clip-path="url(#c31)">
</g>
<g clip-path="url(#c32)">
</g>
<g clip-path="url(#c33)">
</g>
<g clip-path="url(#c34)">
</g>
<g clip-path="url(#c35)">
</g>
<g clip-path="url(#c36)">
</g>
<g clip-path="url(#c37)">
</g>
<g clip-path="url(#c38)">
</g>
<g clip-path="url(#c39)">
</g>
<g clip-path="url(#c40)">
</g>
<g clip-path="url(#c41)">
</g>
<g clip-path="url(#c42)">
</g>
<g clip-path="url(#c43)">
</g>
<g clip-path="url(#c44)">
</g>
<g clip-path="url(#c45)">
</g>
<g clip-path="url(#c46)">
</g>
<g clip-path="url(#c47)">
</g>
<g clip-path="url(#c48)">
</g>
<g clip-path="url(#c49)">
</g>
<g clip-path="url(#c50)">
</g>
<g clip-path="url(#c51)">
</g>
<g clip-path="url(#c52)">
</g>
<g clip-path="url(#c53)">
</g>
</g>
<rect x="36.2" y="112.2" width="539.8" height="473" fill="none" stroke="#000" stroke-opacity="0.35" stroke-width="0.5"/>
</svg>
<div class="title">HADCM3 MAM Temperature</div>
<div class="sub l">Change in seasonal average</div>
<div class="sub r">degC</div>
<div class="cb"><i style="background:#00009B"></i><i style="background:#0019FF"></i><i style="background:#3D87FF"></i><i style="background:#86BAFF"></i><i style="background:#96FFFF"></i><i style="background:#FFF5CC"></i><i style="background:#FFE066"></i><i style="background:#FFCC00"></i><i style="background:#FFAF00"></i><i style="background:#FF9200"></i><i style="background:#FF6600"></i><i style="background:#FF3300"></i><i style="background:#EB0000"></i><i style="background:#C80000"></i><i style="background:#A02323"></i></div>
<div class="lab" style="left:78px">-2</div>
<div class="lab" style="left:113px">-1.5</div>
<div class="lab" style="left:148px">-1</div>
<div class="lab" style="left:183px">-0.5</div>
<div class="lab" style="left:218px">0</div>
<div class="lab" style="left:253px">0.5</div>
<div class="lab" style="left:288px">1</div>
<div class="lab" style="left:323px">1.5</div>
<div class="lab" style="left:358px">2</div>
<div class="lab" style="left:394px">2.5</div>
<div class="lab" style="left:429px">3</div>
<div class="lab" style="left:464px">4</div>
<div class="lab" style="left:499px">5</div>
<div class="lab" style="left:534px">7</div>
</body>
</html>
